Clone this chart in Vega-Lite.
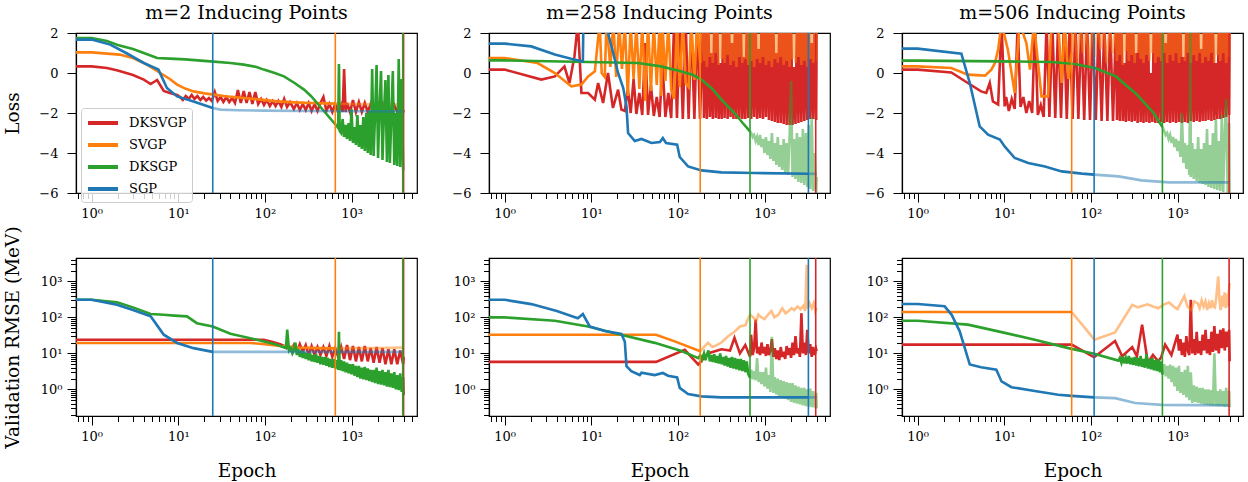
{
"$schema":"https://vega.github.io/schema/vega-lite/v6.json",
"padding":{"left":2,"top":3,"right":2,"bottom":2},
"background":"white",
"config":{
 "font":"DejaVu Serif",
 "view":{"stroke":"black","strokeWidth":1.2},
 "axis":{"grid":false,"domainColor":"black","domainWidth":1.2,"tickColor":"black","tickWidth":1,"labelColor":"black","labelFontSize":13,"labelFont":"DejaVu Serif","titleFont":"DejaVu Serif","titleFontSize":18.5,"titleFontWeight":"normal","titleColor":"black"},
 "title":{"font":"DejaVu Serif","fontSize":19,"fontWeight":"normal","color":"black","offset":4,"anchor":"middle","frame":"group"}
},
"datasets":{
"L":[
{"p":1,"k":"L","s":"DKSVGP","f":0,"e":0.66,"v":0.33},{"p":1,"k":"L","s":"DKSVGP","f":0,"e":1,"v":0.33},{"p":1,"k":"L","s":"DKSVGP","f":0,"e":1.5,"v":0.25},{"p":1,"k":"L","s":"DKSVGP","f":0,"e":2,"v":0.12},{"p":1,"k":"L","s":"DKSVGP","f":0,"e":3,"v":-0.1},{"p":1,"k":"L","s":"DKSVGP","f":0,"e":4,"v":-0.33},{"p":1,"k":"L","s":"DKSVGP","f":0,"e":4.8,"v":-0.55},{"p":1,"k":"L","s":"DKSVGP","f":0,"e":5.7,"v":-0.35},{"p":1,"k":"L","s":"DKSVGP","f":0,"e":6.8,"v":-0.9},{"p":1,"k":"L","s":"DKSVGP","f":0,"e":8,"v":-1.0},{"p":1,"k":"L","s":"DKSVGP","f":0,"e":9.7,"v":-1.1},
{"p":1,"k":"L","s":"DKSVGP","f":0,"e":10.5,"v":-1.2},{"p":1,"k":"L","s":"DKSVGP","f":0,"e":11.3,"v":-1.35},{"p":1,"k":"L","s":"DKSVGP","f":0,"e":12.2,"v":-1.15},{"p":1,"k":"L","s":"DKSVGP","f":0,"e":13.2,"v":-1.3},{"p":1,"k":"L","s":"DKSVGP","f":0,"e":14.3,"v":-1.1},{"p":1,"k":"L","s":"DKSVGP","f":0,"e":15.4,"v":-1.3},{"p":1,"k":"L","s":"DKSVGP","f":0,"e":16.6,"v":-1.15},{"p":1,"k":"L","s":"DKSVGP","f":0,"e":18,"v":-1.35},{"p":1,"k":"L","s":"DKSVGP","f":0,"e":19.4,"v":-1.2},{"p":1,"k":"L","s":"DKSVGP","f":0,"e":21,"v":-1.38},{"p":1,"k":"L","s":"DKSVGP","f":0,"e":22.6,"v":-1.25},{"p":1,"k":"L","s":"DKSVGP","f":0,"e":24.4,"v":-1.4},{"p":1,"k":"L","s":"DKSVGP","f":0,"e":26.4,"v":-0.95},{"p":1,"k":"L","s":"DKSVGP","f":0,"e":28.5,"v":-1.4},{"p":1,"k":"L","s":"DKSVGP","f":0,"e":30.8,"v":-1.2},{"p":1,"k":"L","s":"DKSVGP","f":0,"e":33.2,"v":-1.45},{"p":1,"k":"L","s":"DKSVGP","f":0,"e":35.9,"v":-1.2},{"p":1,"k":"L","s":"DKSVGP","f":0,"e":38.8,"v":-1.45},{"p":1,"k":"L","s":"DKSVGP","f":0,"e":41.9,"v":-1.25},{"p":1,"k":"L","s":"DKSVGP","f":0,"e":45.2,"v":-1.5},{"p":1,"k":"L","s":"DKSVGP","f":0,"e":48.8,"v":-0.85},{"p":1,"k":"L","s":"DKSVGP","f":0,"e":52.7,"v":-1.5},{"p":1,"k":"L","s":"DKSVGP","f":0,"e":57,"v":-0.9},{"p":1,"k":"L","s":"DKSVGP","f":0,"e":61.5,"v":-1.5},{"p":1,"k":"L","s":"DKSVGP","f":0,"e":66.4,"v":-0.95},{"p":1,"k":"L","s":"DKSVGP","f":0,"e":71.7,"v":-1.55},{"p":1,"k":"L","s":"DKSVGP","f":0,"e":77.5,"v":-0.95},{"p":1,"k":"L","s":"DKSVGP","f":0,"e":83.7,"v":-1.55},{"p":1,"k":"L","s":"DKSVGP","f":0,"e":90.4,"v":-1.3},{"p":1,"k":"L","s":"DKSVGP","f":0,"e":97.6,"v":-1.6},{"p":1,"k":"L","s":"DKSVGP","f":0,"e":105,"v":-1.35},{"p":1,"k":"L","s":"DKSVGP","f":0,"e":114,"v":-1.65},{"p":1,"k":"L","s":"DKSVGP","f":0,"e":123,"v":-1.4},{"p":1,"k":"L","s":"DKSVGP","f":0,"e":133,"v":-1.65},{"p":1,"k":"L","s":"DKSVGP","f":0,"e":143,"v":-1.4},{"p":1,"k":"L","s":"DKSVGP","f":0,"e":155,"v":-1.7},{"p":1,"k":"L","s":"DKSVGP","f":0,"e":167,"v":-1.3},{"p":1,"k":"L","s":"DKSVGP","f":0,"e":180,"v":-1.7},{"p":1,"k":"L","s":"DKSVGP","f":0,"e":195,"v":-1.45},
{"p":1,"k":"L","s":"DKSVGP","f":0,"e":216,"v":-1.8},{"p":1,"k":"L","s":"DKSVGP","f":0,"e":234,"v":-1.5},{"p":1,"k":"L","s":"DKSVGP","f":0,"e":253,"v":-1.85},{"p":1,"k":"L","s":"DKSVGP","f":0,"e":274,"v":-1.55},{"p":1,"k":"L","s":"DKSVGP","f":0,"e":296,"v":-1.85},{"p":1,"k":"L","s":"DKSVGP","f":0,"e":320,"v":-1.5},{"p":1,"k":"L","s":"DKSVGP","f":0,"e":346,"v":-1.9},{"p":1,"k":"L","s":"DKSVGP","f":0,"e":375,"v":-1.55},{"p":1,"k":"L","s":"DKSVGP","f":0,"e":405,"v":-1.9},{"p":1,"k":"L","s":"DKSVGP","f":0,"e":438,"v":-1.5},{"p":1,"k":"L","s":"DKSVGP","f":0,"e":474,"v":-1.2},{"p":1,"k":"L","s":"DKSVGP","f":0,"e":513,"v":-1.9},{"p":1,"k":"L","s":"DKSVGP","f":0,"e":555,"v":-1.55},{"p":1,"k":"L","s":"DKSVGP","f":0,"e":600,"v":-1.95},{"p":1,"k":"L","s":"DKSVGP","f":0,"e":649,"v":-1.55},{"p":1,"k":"L","s":"DKSVGP","f":0,"e":702,"v":-1.95},{"p":1,"k":"L","s":"DKSVGP","f":0,"e":759,"v":-1.6},{"p":1,"k":"L","s":"DKSVGP","f":0,"e":790,"v":-1.95},{"p":1,"k":"L","s":"DKSVGP","f":0,"e":821,"v":0.2},{"p":1,"k":"L","s":"DKSVGP","f":0,"e":854,"v":-1.95},{"p":1,"k":"L","s":"DKSVGP","f":0,"e":888,"v":-1.5},{"p":1,"k":"L","s":"DKSVGP","f":0,"e":961,"v":-1.95},{"p":1,"k":"L","s":"DKSVGP","f":0,"e":1039,"v":-1.35},{"p":1,"k":"L","s":"DKSVGP","f":0,"e":1124,"v":-1.95},{"p":1,"k":"L","s":"DKSVGP","f":0,"e":1216,"v":-1.45},{"p":1,"k":"L","s":"DKSVGP","f":0,"e":1315,"v":-1.95},{"p":1,"k":"L","s":"DKSVGP","f":0,"e":1423,"v":-1.5},{"p":1,"k":"L","s":"DKSVGP","f":0,"e":1539,"v":-1.95},{"p":1,"k":"L","s":"DKSVGP","f":0,"e":1664,"v":-1.55},{"p":1,"k":"L","s":"DKSVGP","f":0,"e":1800,"v":-1.95},{"p":1,"k":"L","s":"DKSVGP","f":0,"e":1947,"v":-1.6},{"p":1,"k":"L","s":"DKSVGP","f":0,"e":2106,"v":-1.95},{"p":1,"k":"L","s":"DKSVGP","f":0,"e":2278,"v":-1.55},{"p":1,"k":"L","s":"DKSVGP","f":0,"e":2464,"v":-1.95},{"p":1,"k":"L","s":"DKSVGP","f":0,"e":2665,"v":-1.6},{"p":1,"k":"L","s":"DKSVGP","f":0,"e":2882,"v":-1.95},{"p":1,"k":"L","s":"DKSVGP","f":0,"e":3117,"v":-1.6},{"p":1,"k":"L","s":"DKSVGP","f":0,"e":3372,"v":-1.95},{"p":1,"k":"L","s":"DKSVGP","f":0,"e":3647,"v":-1.6},{"p":1,"k":"L","s":"DKSVGP","f":0,"e":3945,"v":-1.95},{"p":1,"k":"L","s":"DKSVGP","f":0,"e":4000,"v":-1.85},
{"p":1,"k":"L","s":"SVGP","f":0,"e":0.66,"v":1.03},{"p":1,"k":"L","s":"SVGP","f":0,"e":1,"v":1.03},{"p":1,"k":"L","s":"SVGP","f":0,"e":2.1,"v":0.92},{"p":1,"k":"L","s":"SVGP","f":0,"e":3,"v":0.75},{"p":1,"k":"L","s":"SVGP","f":0,"e":4,"v":0.5},{"p":1,"k":"L","s":"SVGP","f":0,"e":5,"v":0.25},{"p":1,"k":"L","s":"SVGP","f":0,"e":6.2,"v":0},{"p":1,"k":"L","s":"SVGP","f":0,"e":8,"v":-0.3},{"p":1,"k":"L","s":"SVGP","f":0,"e":9.7,"v":-0.58},{"p":1,"k":"L","s":"SVGP","f":0,"e":12,"v":-0.78},{"p":1,"k":"L","s":"SVGP","f":0,"e":15,"v":-0.92},{"p":1,"k":"L","s":"SVGP","f":0,"e":20,"v":-1.02},{"p":1,"k":"L","s":"SVGP","f":0,"e":25.8,"v":-1.08},{"p":1,"k":"L","s":"SVGP","f":0,"e":35,"v":-1.16},{"p":1,"k":"L","s":"SVGP","f":0,"e":57,"v":-1.25},{"p":1,"k":"L","s":"SVGP","f":0,"e":90,"v":-1.33},{"p":1,"k":"L","s":"SVGP","f":0,"e":138,"v":-1.42},{"p":1,"k":"L","s":"SVGP","f":0,"e":220,"v":-1.47},{"p":1,"k":"L","s":"SVGP","f":0,"e":338,"v":-1.5},{"p":1,"k":"L","s":"SVGP","f":0,"e":500,"v":-1.52},{"p":1,"k":"L","s":"SVGP","f":0,"e":650,"v":-1.53},
{"p":1,"k":"L","s":"SVGP","f":1,"e":650,"v":-1.53},{"p":1,"k":"L","s":"SVGP","f":1,"e":1000,"v":-1.55},{"p":1,"k":"L","s":"SVGP","f":1,"e":2000,"v":-1.57},{"p":1,"k":"L","s":"SVGP","f":1,"e":4000,"v":-1.58},
{"p":1,"k":"L","s":"DKSGP","f":0,"e":0.66,"v":1.75},{"p":1,"k":"L","s":"DKSGP","f":0,"e":1,"v":1.75},{"p":1,"k":"L","s":"DKSGP","f":0,"e":1.5,"v":1.6},{"p":1,"k":"L","s":"DKSGP","f":0,"e":2,"v":1.4},{"p":1,"k":"L","s":"DKSGP","f":0,"e":3,"v":1.2},{"p":1,"k":"L","s":"DKSGP","f":0,"e":4,"v":1.0},{"p":1,"k":"L","s":"DKSGP","f":0,"e":5.7,"v":0.75},{"p":1,"k":"L","s":"DKSGP","f":0,"e":8,"v":0.72},{"p":1,"k":"L","s":"DKSGP","f":0,"e":12,"v":0.68},{"p":1,"k":"L","s":"DKSGP","f":0,"e":23.6,"v":0.58},{"p":1,"k":"L","s":"DKSGP","f":0,"e":40,"v":0.5},{"p":1,"k":"L","s":"DKSGP","f":0,"e":57,"v":0.42},{"p":1,"k":"L","s":"DKSGP","f":0,"e":80,"v":0.3},{"p":1,"k":"L","s":"DKSGP","f":0,"e":97,"v":0.17},{"p":1,"k":"L","s":"DKSGP","f":0,"e":130,"v":0.0},{"p":1,"k":"L","s":"DKSGP","f":0,"e":166,"v":-0.17},{"p":1,"k":"L","s":"DKSGP","f":0,"e":220,"v":-0.5},{"p":1,"k":"L","s":"DKSGP","f":0,"e":283,"v":-0.83},{"p":1,"k":"L","s":"DKSGP","f":0,"e":340,"v":-1.15},{"p":1,"k":"L","s":"DKSGP","f":0,"e":400,"v":-1.5},{"p":1,"k":"L","s":"DKSGP","f":0,"e":480,"v":-1.9},{"p":1,"k":"L","s":"DKSGP","f":0,"e":575,"v":-2.3},{"p":1,"k":"L","s":"DKSGP","f":0,"e":660,"v":-2.6},{"p":1,"k":"L","s":"DKSGP","f":0,"e":702,"v":-2.75},{"p":1,"k":"L","s":"DKSGP","f":0,"e":716,"v":0.45},{"p":1,"k":"L","s":"DKSGP","f":0,"e":730,"v":-2.9},
{"p":1,"k":"L","s":"DKSGP","f":0,"e":759,"v":-3.0},{"p":1,"k":"L","s":"DKSGP","f":0,"e":790,"v":-2.3},{"p":1,"k":"L","s":"DKSGP","f":0,"e":821,"v":-3.2},{"p":1,"k":"L","s":"DKSGP","f":0,"e":854,"v":-2.6},{"p":1,"k":"L","s":"DKSGP","f":0,"e":888,"v":-3.3},{"p":1,"k":"L","s":"DKSGP","f":0,"e":924,"v":-2.5},{"p":1,"k":"L","s":"DKSGP","f":0,"e":961,"v":-3.4},{"p":1,"k":"L","s":"DKSGP","f":0,"e":999,"v":-1.8},{"p":1,"k":"L","s":"DKSGP","f":0,"e":1039,"v":-3.5},{"p":1,"k":"L","s":"DKSGP","f":0,"e":1081,"v":-2.7},{"p":1,"k":"L","s":"DKSGP","f":0,"e":1124,"v":-3.6},{"p":1,"k":"L","s":"DKSGP","f":0,"e":1169,"v":-2.1},{"p":1,"k":"L","s":"DKSGP","f":0,"e":1216,"v":-3.7},{"p":1,"k":"L","s":"DKSGP","f":0,"e":1265,"v":-2.6},{"p":1,"k":"L","s":"DKSGP","f":0,"e":1315,"v":-3.8},{"p":1,"k":"L","s":"DKSGP","f":0,"e":1368,"v":-2.2},{"p":1,"k":"L","s":"DKSGP","f":0,"e":1423,"v":-3.9},{"p":1,"k":"L","s":"DKSGP","f":0,"e":1480,"v":-2.0},{"p":1,"k":"L","s":"DKSGP","f":0,"e":1539,"v":-4.0},{"p":1,"k":"L","s":"DKSGP","f":0,"e":1600,"v":-1.9},{"p":1,"k":"L","s":"DKSGP","f":0,"e":1664,"v":-4.1},{"p":1,"k":"L","s":"DKSGP","f":0,"e":1731,"v":0.2},{"p":1,"k":"L","s":"DKSGP","f":0,"e":1800,"v":-4.15},{"p":1,"k":"L","s":"DKSGP","f":0,"e":1872,"v":-2.0},{"p":1,"k":"L","s":"DKSGP","f":0,"e":1947,"v":0.4},{"p":1,"k":"L","s":"DKSGP","f":0,"e":2025,"v":-4.25},{"p":1,"k":"L","s":"DKSGP","f":0,"e":2106,"v":-1.8},{"p":1,"k":"L","s":"DKSGP","f":0,"e":2190,"v":0.1},{"p":1,"k":"L","s":"DKSGP","f":0,"e":2278,"v":-4.35},{"p":1,"k":"L","s":"DKSGP","f":0,"e":2369,"v":-2.0},{"p":1,"k":"L","s":"DKSGP","f":0,"e":2464,"v":-0.35},{"p":1,"k":"L","s":"DKSGP","f":0,"e":2562,"v":-4.45},{"p":1,"k":"L","s":"DKSGP","f":0,"e":2665,"v":-0.1},{"p":1,"k":"L","s":"DKSGP","f":0,"e":2771,"v":-4.5},{"p":1,"k":"L","s":"DKSGP","f":0,"e":2882,"v":-2.2},{"p":1,"k":"L","s":"DKSGP","f":0,"e":2998,"v":0.1},{"p":1,"k":"L","s":"DKSGP","f":0,"e":3117,"v":-4.6},{"p":1,"k":"L","s":"DKSGP","f":0,"e":3242,"v":-2.0},{"p":1,"k":"L","s":"DKSGP","f":0,"e":3372,"v":-4.65},{"p":1,"k":"L","s":"DKSGP","f":0,"e":3507,"v":0.7},{"p":1,"k":"L","s":"DKSGP","f":0,"e":3647,"v":-4.7},{"p":1,"k":"L","s":"DKSGP","f":0,"e":3793,"v":-0.3},{"p":1,"k":"L","s":"DKSGP","f":0,"e":3945,"v":-4.8},{"p":1,"k":"L","s":"DKSGP","f":0,"e":4000,"v":-4.85},
{"p":1,"k":"L","s":"SGP","f":0,"e":0.66,"v":1.67},{"p":1,"k":"L","s":"SGP","f":0,"e":1,"v":1.67},{"p":1,"k":"L","s":"SGP","f":0,"e":1.64,"v":1.42},{"p":1,"k":"L","s":"SGP","f":0,"e":2.5,"v":1.0},{"p":1,"k":"L","s":"SGP","f":0,"e":4,"v":0.5},{"p":1,"k":"L","s":"SGP","f":0,"e":5.9,"v":0.17},{"p":1,"k":"L","s":"SGP","f":0,"e":7.4,"v":-0.75},{"p":1,"k":"L","s":"SGP","f":0,"e":9.7,"v":-1.17},{"p":1,"k":"L","s":"SGP","f":0,"e":15,"v":-1.42},{"p":1,"k":"L","s":"SGP","f":0,"e":25,"v":-1.75},
{"p":1,"k":"L","s":"SGP","f":1,"e":25,"v":-1.75},{"p":1,"k":"L","s":"SGP","f":1,"e":30.6,"v":-1.83},{"p":1,"k":"L","s":"SGP","f":1,"e":50,"v":-1.86},{"p":1,"k":"L","s":"SGP","f":1,"e":97,"v":-1.88},{"p":1,"k":"L","s":"SGP","f":1,"e":300,"v":-1.9},{"p":1,"k":"L","s":"SGP","f":1,"e":1000,"v":-1.91},{"p":1,"k":"L","s":"SGP","f":1,"e":4000,"v":-1.92},
{"p":1,"k":"R","s":"DKSVGP","f":0,"e":0.66,"v":24},{"p":1,"k":"R","s":"DKSVGP","f":0,"e":97,"v":24},{"p":1,"k":"R","s":"DKSVGP","f":0,"e":120,"v":21},{"p":1,"k":"R","s":"DKSVGP","f":0,"e":150,"v":18},{"p":1,"k":"R","s":"DKSVGP","f":0,"e":180,"v":15},{"p":1,"k":"R","s":"DKSVGP","f":0,"e":200,"v":12},{"p":1,"k":"R","s":"DKSVGP","f":0,"e":216,"v":17},{"p":1,"k":"R","s":"DKSVGP","f":0,"e":234,"v":11},{"p":1,"k":"R","s":"DKSVGP","f":0,"e":253,"v":18},{"p":1,"k":"R","s":"DKSVGP","f":0,"e":274,"v":11},{"p":1,"k":"R","s":"DKSVGP","f":0,"e":296,"v":17},{"p":1,"k":"R","s":"DKSVGP","f":0,"e":320,"v":9},{"p":1,"k":"R","s":"DKSVGP","f":0,"e":346,"v":16},{"p":1,"k":"R","s":"DKSVGP","f":0,"e":375,"v":9},{"p":1,"k":"R","s":"DKSVGP","f":0,"e":405,"v":15},{"p":1,"k":"R","s":"DKSVGP","f":0,"e":438,"v":9},{"p":1,"k":"R","s":"DKSVGP","f":0,"e":474,"v":15},{"p":1,"k":"R","s":"DKSVGP","f":0,"e":513,"v":8.5},{"p":1,"k":"R","s":"DKSVGP","f":0,"e":555,"v":16},{"p":1,"k":"R","s":"DKSVGP","f":0,"e":600,"v":8},{"p":1,"k":"R","s":"DKSVGP","f":0,"e":649,"v":14},{"p":1,"k":"R","s":"DKSVGP","f":0,"e":702,"v":8},{"p":1,"k":"R","s":"DKSVGP","f":0,"e":759,"v":15},{"p":1,"k":"R","s":"DKSVGP","f":0,"e":821,"v":7},{"p":1,"k":"R","s":"DKSVGP","f":0,"e":888,"v":17},{"p":1,"k":"R","s":"DKSVGP","f":0,"e":961,"v":6.5},{"p":1,"k":"R","s":"DKSVGP","f":0,"e":1039,"v":16},{"p":1,"k":"R","s":"DKSVGP","f":0,"e":1124,"v":6},{"p":1,"k":"R","s":"DKSVGP","f":0,"e":1216,"v":15},{"p":1,"k":"R","s":"DKSVGP","f":0,"e":1315,"v":6},{"p":1,"k":"R","s":"DKSVGP","f":0,"e":1423,"v":16},{"p":1,"k":"R","s":"DKSVGP","f":0,"e":1539,"v":6},{"p":1,"k":"R","s":"DKSVGP","f":0,"e":1664,"v":14},{"p":1,"k":"R","s":"DKSVGP","f":0,"e":1800,"v":5.5},{"p":1,"k":"R","s":"DKSVGP","f":0,"e":1947,"v":15},{"p":1,"k":"R","s":"DKSVGP","f":0,"e":2106,"v":5.5},{"p":1,"k":"R","s":"DKSVGP","f":0,"e":2278,"v":14},{"p":1,"k":"R","s":"DKSVGP","f":0,"e":2464,"v":5},{"p":1,"k":"R","s":"DKSVGP","f":0,"e":2665,"v":13},{"p":1,"k":"R","s":"DKSVGP","f":0,"e":2882,"v":5},{"p":1,"k":"R","s":"DKSVGP","f":0,"e":3117,"v":13},{"p":1,"k":"R","s":"DKSVGP","f":0,"e":3372,"v":5},{"p":1,"k":"R","s":"DKSVGP","f":0,"e":3647,"v":12},{"p":1,"k":"R","s":"DKSVGP","f":0,"e":3945,"v":5},{"p":1,"k":"R","s":"DKSVGP","f":0,"e":4000,"v":8},
{"p":1,"k":"R","s":"SVGP","f":0,"e":0.66,"v":19.5},{"p":1,"k":"R","s":"SVGP","f":0,"e":68,"v":19.5},{"p":1,"k":"R","s":"SVGP","f":0,"e":100,"v":18},{"p":1,"k":"R","s":"SVGP","f":0,"e":150,"v":16},{"p":1,"k":"R","s":"SVGP","f":0,"e":250,"v":14.5},{"p":1,"k":"R","s":"SVGP","f":0,"e":400,"v":14},{"p":1,"k":"R","s":"SVGP","f":0,"e":650,"v":13.8},
{"p":1,"k":"R","s":"SVGP","f":1,"e":650,"v":13.8},{"p":1,"k":"R","s":"SVGP","f":1,"e":1000,"v":14},{"p":1,"k":"R","s":"SVGP","f":1,"e":2000,"v":14},{"p":1,"k":"R","s":"SVGP","f":1,"e":4000,"v":14.5},
{"p":1,"k":"R","s":"DKSGP","f":0,"e":0.66,"v":309},{"p":1,"k":"R","s":"DKSGP","f":0,"e":1,"v":309},{"p":1,"k":"R","s":"DKSGP","f":0,"e":1.96,"v":262},{"p":1,"k":"R","s":"DKSGP","f":0,"e":3,"v":190},{"p":1,"k":"R","s":"DKSGP","f":0,"e":4.8,"v":124},{"p":1,"k":"R","s":"DKSGP","f":0,"e":6.8,"v":118},{"p":1,"k":"R","s":"DKSGP","f":0,"e":9,"v":112},{"p":1,"k":"R","s":"DKSGP","f":0,"e":12.6,"v":107},{"p":1,"k":"R","s":"DKSGP","f":0,"e":16.4,"v":69},{"p":1,"k":"R","s":"DKSGP","f":0,"e":25,"v":56},{"p":1,"k":"R","s":"DKSGP","f":0,"e":40,"v":35},{"p":1,"k":"R","s":"DKSGP","f":0,"e":81,"v":24},{"p":1,"k":"R","s":"DKSGP","f":0,"e":138,"v":17.4},{"p":1,"k":"R","s":"DKSGP","f":0,"e":175,"v":14},{"p":1,"k":"R","s":"DKSGP","f":0,"e":181,"v":46},{"p":1,"k":"R","s":"DKSGP","f":0,"e":190,"v":12},{"p":1,"k":"R","s":"DKSGP","f":0,"e":200,"v":14},{"p":1,"k":"R","s":"DKSGP","f":0,"e":208,"v":10},{"p":1,"k":"R","s":"DKSGP","f":0,"e":216,"v":12},{"p":1,"k":"R","s":"DKSGP","f":0,"e":225,"v":20},{"p":1,"k":"R","s":"DKSGP","f":0,"e":234,"v":9},{"p":1,"k":"R","s":"DKSGP","f":0,"e":243,"v":13},{"p":1,"k":"R","s":"DKSGP","f":0,"e":253,"v":8},{"p":1,"k":"R","s":"DKSGP","f":0,"e":263,"v":12},{"p":1,"k":"R","s":"DKSGP","f":0,"e":274,"v":7.5},{"p":1,"k":"R","s":"DKSGP","f":0,"e":285,"v":11},{"p":1,"k":"R","s":"DKSGP","f":0,"e":296,"v":7},{"p":1,"k":"R","s":"DKSGP","f":0,"e":308,"v":10},{"p":1,"k":"R","s":"DKSGP","f":0,"e":320,"v":6.5},{"p":1,"k":"R","s":"DKSGP","f":0,"e":333,"v":10},{"p":1,"k":"R","s":"DKSGP","f":0,"e":346,"v":6},{"p":1,"k":"R","s":"DKSGP","f":0,"e":360,"v":9},{"p":1,"k":"R","s":"DKSGP","f":0,"e":375,"v":5.8},{"p":1,"k":"R","s":"DKSGP","f":0,"e":390,"v":9.5},{"p":1,"k":"R","s":"DKSGP","f":0,"e":405,"v":5.5},{"p":1,"k":"R","s":"DKSGP","f":0,"e":421,"v":8.5},{"p":1,"k":"R","s":"DKSGP","f":0,"e":438,"v":5},{"p":1,"k":"R","s":"DKSGP","f":0,"e":456,"v":8},{"p":1,"k":"R","s":"DKSGP","f":0,"e":474,"v":4.8},{"p":1,"k":"R","s":"DKSGP","f":0,"e":493,"v":8},{"p":1,"k":"R","s":"DKSGP","f":0,"e":513,"v":4.5},{"p":1,"k":"R","s":"DKSGP","f":0,"e":533,"v":7.5},{"p":1,"k":"R","s":"DKSGP","f":0,"e":555,"v":4.2},{"p":1,"k":"R","s":"DKSGP","f":0,"e":577,"v":7},{"p":1,"k":"R","s":"DKSGP","f":0,"e":600,"v":4},{"p":1,"k":"R","s":"DKSGP","f":0,"e":624,"v":7},{"p":1,"k":"R","s":"DKSGP","f":0,"e":649,"v":3.8},{"p":1,"k":"R","s":"DKSGP","f":0,"e":675,"v":6.5},{"p":1,"k":"R","s":"DKSGP","f":0,"e":702,"v":3.5},{"p":1,"k":"R","s":"DKSGP","f":0,"e":716,"v":40},{"p":1,"k":"R","s":"DKSGP","f":0,"e":730,"v":3.4},{"p":1,"k":"R","s":"DKSGP","f":0,"e":759,"v":6.5},{"p":1,"k":"R","s":"DKSGP","f":0,"e":790,"v":3.2},{"p":1,"k":"R","s":"DKSGP","f":0,"e":821,"v":6},{"p":1,"k":"R","s":"DKSGP","f":0,"e":854,"v":3},{"p":1,"k":"R","s":"DKSGP","f":0,"e":888,"v":5.5},{"p":1,"k":"R","s":"DKSGP","f":0,"e":924,"v":2.8},{"p":1,"k":"R","s":"DKSGP","f":0,"e":961,"v":5},{"p":1,"k":"R","s":"DKSGP","f":0,"e":999,"v":2.6},{"p":1,"k":"R","s":"DKSGP","f":0,"e":1039,"v":5},{"p":1,"k":"R","s":"DKSGP","f":0,"e":1081,"v":2.4},{"p":1,"k":"R","s":"DKSGP","f":0,"e":1124,"v":4.5},{"p":1,"k":"R","s":"DKSGP","f":0,"e":1169,"v":2.2},{"p":1,"k":"R","s":"DKSGP","f":0,"e":1216,"v":4.5},{"p":1,"k":"R","s":"DKSGP","f":0,"e":1265,"v":2.0},{"p":1,"k":"R","s":"DKSGP","f":0,"e":1315,"v":4},{"p":1,"k":"R","s":"DKSGP","f":0,"e":1368,"v":1.9},{"p":1,"k":"R","s":"DKSGP","f":0,"e":1423,"v":4.2},{"p":1,"k":"R","s":"DKSGP","f":0,"e":1480,"v":1.8},{"p":1,"k":"R","s":"DKSGP","f":0,"e":1539,"v":3.8},{"p":1,"k":"R","s":"DKSGP","f":0,"e":1600,"v":1.7},{"p":1,"k":"R","s":"DKSGP","f":0,"e":1664,"v":3.5},{"p":1,"k":"R","s":"DKSGP","f":0,"e":1731,"v":1.6},{"p":1,"k":"R","s":"DKSGP","f":0,"e":1800,"v":3.5},{"p":1,"k":"R","s":"DKSGP","f":0,"e":1872,"v":1.5},{"p":1,"k":"R","s":"DKSGP","f":0,"e":1947,"v":4},{"p":1,"k":"R","s":"DKSGP","f":0,"e":2025,"v":1.4},{"p":1,"k":"R","s":"DKSGP","f":0,"e":2106,"v":3.2},{"p":1,"k":"R","s":"DKSGP","f":0,"e":2190,"v":1.35},{"p":1,"k":"R","s":"DKSGP","f":0,"e":2278,"v":3.5},{"p":1,"k":"R","s":"DKSGP","f":0,"e":2369,"v":1.3},{"p":1,"k":"R","s":"DKSGP","f":0,"e":2464,"v":3},{"p":1,"k":"R","s":"DKSGP","f":0,"e":2562,"v":1.2},{"p":1,"k":"R","s":"DKSGP","f":0,"e":2665,"v":3.5},{"p":1,"k":"R","s":"DKSGP","f":0,"e":2771,"v":1.15},{"p":1,"k":"R","s":"DKSGP","f":0,"e":2882,"v":2.8},{"p":1,"k":"R","s":"DKSGP","f":0,"e":2998,"v":1.1},{"p":1,"k":"R","s":"DKSGP","f":0,"e":3117,"v":3},{"p":1,"k":"R","s":"DKSGP","f":0,"e":3242,"v":1.0},{"p":1,"k":"R","s":"DKSGP","f":0,"e":3372,"v":2.5},{"p":1,"k":"R","s":"DKSGP","f":0,"e":3507,"v":0.95},{"p":1,"k":"R","s":"DKSGP","f":0,"e":3647,"v":2.8},{"p":1,"k":"R","s":"DKSGP","f":0,"e":3793,"v":0.85},{"p":1,"k":"R","s":"DKSGP","f":0,"e":3945,"v":2.2},{"p":1,"k":"R","s":"DKSGP","f":0,"e":4000,"v":0.7},
{"p":1,"k":"R","s":"SGP","f":0,"e":0.66,"v":309},{"p":1,"k":"R","s":"SGP","f":0,"e":1,"v":309},{"p":1,"k":"R","s":"SGP","f":0,"e":1.96,"v":224},{"p":1,"k":"R","s":"SGP","f":0,"e":3,"v":160},{"p":1,"k":"R","s":"SGP","f":0,"e":4.8,"v":107},{"p":1,"k":"R","s":"SGP","f":0,"e":5.7,"v":60},{"p":1,"k":"R","s":"SGP","f":0,"e":6.8,"v":33},{"p":1,"k":"R","s":"SGP","f":0,"e":9.7,"v":19.5},{"p":1,"k":"R","s":"SGP","f":0,"e":15,"v":14},{"p":1,"k":"R","s":"SGP","f":0,"e":25,"v":11},
{"p":1,"k":"R","s":"SGP","f":1,"e":25,"v":11},{"p":1,"k":"R","s":"SGP","f":1,"e":100,"v":11},{"p":1,"k":"R","s":"SGP","f":1,"e":4000,"v":11},
{"p":2,"k":"L","s":"DKSVGP","f":0,"e":0.66,"v":0.17},{"p":2,"k":"L","s":"DKSVGP","f":0,"e":1,"v":0.17},{"p":2,"k":"L","s":"DKSVGP","f":0,"e":2.65,"v":-0.33},{"p":2,"k":"L","s":"DKSVGP","f":0,"e":3.8,"v":-0.17},{"p":2,"k":"L","s":"DKSVGP","f":0,"e":4.9,"v":0.33},{"p":2,"k":"L","s":"DKSVGP","f":0,"e":5.6,"v":-0.5},{"p":2,"k":"L","s":"DKSVGP","f":0,"e":6.4,"v":0.83},{"p":2,"k":"L","s":"DKSVGP","f":0,"e":7.0,"v":2.5},{"p":2,"k":"L","s":"DKSVGP","f":0,"e":7.7,"v":-1.0},{"p":2,"k":"L","s":"DKSVGP","f":0,"e":9.2,"v":-1.0},{"p":2,"k":"L","s":"DKSVGP","f":0,"e":11,"v":-1.33},{"p":2,"k":"L","s":"DKSVGP","f":0,"e":12,"v":-0.5},{"p":2,"k":"L","s":"DKSVGP","f":0,"e":13.7,"v":-1.5},{"p":2,"k":"L","s":"DKSVGP","f":0,"e":15.6,"v":0.0},{"p":2,"k":"L","s":"DKSVGP","f":0,"e":17.8,"v":-1.75},{"p":2,"k":"L","s":"DKSVGP","f":0,"e":20.4,"v":-0.83},{"p":2,"k":"L","s":"DKSVGP","f":0,"e":22.3,"v":-1.83},
{"p":2,"k":"L","s":"DKSVGP","f":0,"e":24.4,"v":-1.9},{"p":2,"k":"L","s":"DKSVGP","f":0,"e":26.4,"v":-0.8},{"p":2,"k":"L","s":"DKSVGP","f":0,"e":28.5,"v":-2.0},{"p":2,"k":"L","s":"DKSVGP","f":0,"e":30.8,"v":-0.3},{"p":2,"k":"L","s":"DKSVGP","f":0,"e":33.2,"v":-2.05},{"p":2,"k":"L","s":"DKSVGP","f":0,"e":35.9,"v":-1.0},{"p":2,"k":"L","s":"DKSVGP","f":0,"e":38.8,"v":-2.1},{"p":2,"k":"L","s":"DKSVGP","f":0,"e":41.9,"v":1.5},{"p":2,"k":"L","s":"DKSVGP","f":0,"e":45.2,"v":-2.1},{"p":2,"k":"L","s":"DKSVGP","f":0,"e":48.8,"v":-0.6},{"p":2,"k":"L","s":"DKSVGP","f":0,"e":52.7,"v":-2.15},{"p":2,"k":"L","s":"DKSVGP","f":0,"e":57,"v":-1.2},{"p":2,"k":"L","s":"DKSVGP","f":0,"e":61.5,"v":-2.2},{"p":2,"k":"L","s":"DKSVGP","f":0,"e":66.4,"v":0.5},{"p":2,"k":"L","s":"DKSVGP","f":0,"e":71.7,"v":-2.2},{"p":2,"k":"L","s":"DKSVGP","f":0,"e":77.5,"v":-1.0},{"p":2,"k":"L","s":"DKSVGP","f":0,"e":83.7,"v":-2.25},{"p":2,"k":"L","s":"DKSVGP","f":0,"e":90.4,"v":2.5},{"p":2,"k":"L","s":"DKSVGP","f":0,"e":97.6,"v":-2.25},{"p":2,"k":"L","s":"DKSVGP","f":0,"e":105,"v":2.5},{"p":2,"k":"L","s":"DKSVGP","f":0,"e":114,"v":-2.3},{"p":2,"k":"L","s":"DKSVGP","f":0,"e":123,"v":2.5},{"p":2,"k":"L","s":"DKSVGP","f":0,"e":133,"v":-2.3},{"p":2,"k":"L","s":"DKSVGP","f":0,"e":143,"v":2.5},{"p":2,"k":"L","s":"DKSVGP","f":0,"e":155,"v":-2.3},{"p":2,"k":"L","s":"DKSVGP","f":0,"e":167,"v":2.5},{"p":2,"k":"L","s":"DKSVGP","f":0,"e":180,"v":-2.3},{"p":2,"k":"L","s":"DKSVGP","f":0,"e":195,"v":2.5},
{"p":2,"k":"L","s":"DKSVGP","f":0,"e":200,"v":-2.25},{"p":2,"k":"L","s":"DKSVGP","f":0,"e":208,"v":2.5},{"p":2,"k":"L","s":"DKSVGP","f":0,"e":216,"v":-2.3},{"p":2,"k":"L","s":"DKSVGP","f":0,"e":225,"v":2.5},{"p":2,"k":"L","s":"DKSVGP","f":0,"e":234,"v":-2.2},{"p":2,"k":"L","s":"DKSVGP","f":0,"e":243,"v":1.0},{"p":2,"k":"L","s":"DKSVGP","f":0,"e":253,"v":-2.3},{"p":2,"k":"L","s":"DKSVGP","f":0,"e":263,"v":2.5},{"p":2,"k":"L","s":"DKSVGP","f":0,"e":274,"v":-2.25},{"p":2,"k":"L","s":"DKSVGP","f":0,"e":285,"v":2.5},{"p":2,"k":"L","s":"DKSVGP","f":0,"e":296,"v":-2.3},{"p":2,"k":"L","s":"DKSVGP","f":0,"e":308,"v":0.5},{"p":2,"k":"L","s":"DKSVGP","f":0,"e":320,"v":-2.3},{"p":2,"k":"L","s":"DKSVGP","f":0,"e":333,"v":2.5},{"p":2,"k":"L","s":"DKSVGP","f":0,"e":346,"v":-2.25},{"p":2,"k":"L","s":"DKSVGP","f":0,"e":360,"v":2.5},{"p":2,"k":"L","s":"DKSVGP","f":0,"e":375,"v":-2.3},{"p":2,"k":"L","s":"DKSVGP","f":0,"e":390,"v":2.5},{"p":2,"k":"L","s":"DKSVGP","f":0,"e":405,"v":-2.2},{"p":2,"k":"L","s":"DKSVGP","f":0,"e":421,"v":1.5},{"p":2,"k":"L","s":"DKSVGP","f":0,"e":438,"v":-2.3},{"p":2,"k":"L","s":"DKSVGP","f":0,"e":456,"v":2.5},{"p":2,"k":"L","s":"DKSVGP","f":0,"e":474,"v":-2.3},{"p":2,"k":"L","s":"DKSVGP","f":0,"e":493,"v":2.5},{"p":2,"k":"L","s":"DKSVGP","f":0,"e":513,"v":-2.25},{"p":2,"k":"L","s":"DKSVGP","f":0,"e":533,"v":2.5},{"p":2,"k":"L","s":"DKSVGP","f":0,"e":555,"v":-2.3},{"p":2,"k":"L","s":"DKSVGP","f":0,"e":577,"v":0.8},{"p":2,"k":"L","s":"DKSVGP","f":0,"e":600,"v":-2.3},{"p":2,"k":"L","s":"DKSVGP","f":0,"e":624,"v":2.5},{"p":2,"k":"L","s":"DKSVGP","f":0,"e":649,"v":-2.25},{"p":2,"k":"L","s":"DKSVGP","f":0,"e":675,"v":2.5},{"p":2,"k":"L","s":"DKSVGP","f":0,"e":702,"v":-2.3},{"p":2,"k":"L","s":"DKSVGP","f":0,"e":730,"v":2.5},{"p":2,"k":"L","s":"DKSVGP","f":0,"e":759,"v":-2.2},{"p":2,"k":"L","s":"DKSVGP","f":0,"e":790,"v":2.5},{"p":2,"k":"L","s":"DKSVGP","f":0,"e":821,"v":-2.3},{"p":2,"k":"L","s":"DKSVGP","f":0,"e":854,"v":1.2},{"p":2,"k":"L","s":"DKSVGP","f":0,"e":888,"v":-2.25},{"p":2,"k":"L","s":"DKSVGP","f":0,"e":924,"v":2.5},{"p":2,"k":"L","s":"DKSVGP","f":0,"e":961,"v":-2.3},{"p":2,"k":"L","s":"DKSVGP","f":0,"e":999,"v":2.5},{"p":2,"k":"L","s":"DKSVGP","f":0,"e":1039,"v":-2.2},{"p":2,"k":"L","s":"DKSVGP","f":0,"e":1081,"v":2.5},{"p":2,"k":"L","s":"DKSVGP","f":0,"e":1124,"v":-2.35},{"p":2,"k":"L","s":"DKSVGP","f":0,"e":1169,"v":2.5},{"p":2,"k":"L","s":"DKSVGP","f":0,"e":1216,"v":-2.4},{"p":2,"k":"L","s":"DKSVGP","f":0,"e":1265,"v":2.5},{"p":2,"k":"L","s":"DKSVGP","f":0,"e":1315,"v":-2.45},{"p":2,"k":"L","s":"DKSVGP","f":0,"e":1368,"v":1.0},{"p":2,"k":"L","s":"DKSVGP","f":0,"e":1423,"v":-2.5},{"p":2,"k":"L","s":"DKSVGP","f":0,"e":1480,"v":2.5},{"p":2,"k":"L","s":"DKSVGP","f":0,"e":1539,"v":-2.5},{"p":2,"k":"L","s":"DKSVGP","f":0,"e":1600,"v":2.5},{"p":2,"k":"L","s":"DKSVGP","f":0,"e":1664,"v":-2.55},{"p":2,"k":"L","s":"DKSVGP","f":0,"e":1731,"v":2.5},{"p":2,"k":"L","s":"DKSVGP","f":0,"e":1800,"v":-2.6},{"p":2,"k":"L","s":"DKSVGP","f":0,"e":1872,"v":2.5},{"p":2,"k":"L","s":"DKSVGP","f":0,"e":1947,"v":-2.6},{"p":2,"k":"L","s":"DKSVGP","f":0,"e":2025,"v":2.5},{"p":2,"k":"L","s":"DKSVGP","f":0,"e":2106,"v":-2.6},{"p":2,"k":"L","s":"DKSVGP","f":0,"e":2190,"v":0.3},{"p":2,"k":"L","s":"DKSVGP","f":0,"e":2278,"v":-2.55},{"p":2,"k":"L","s":"DKSVGP","f":0,"e":2369,"v":2.5},{"p":2,"k":"L","s":"DKSVGP","f":0,"e":2464,"v":-2.5},{"p":2,"k":"L","s":"DKSVGP","f":0,"e":2562,"v":2.5},{"p":2,"k":"L","s":"DKSVGP","f":0,"e":2665,"v":-2.45},{"p":2,"k":"L","s":"DKSVGP","f":0,"e":2771,"v":2.5},{"p":2,"k":"L","s":"DKSVGP","f":0,"e":2882,"v":-2.4},{"p":2,"k":"L","s":"DKSVGP","f":0,"e":2998,"v":2.5},{"p":2,"k":"L","s":"DKSVGP","f":0,"e":3117,"v":-2.35},{"p":2,"k":"L","s":"DKSVGP","f":0,"e":3242,"v":2.5},{"p":2,"k":"L","s":"DKSVGP","f":0,"e":3372,"v":-2.3},{"p":2,"k":"L","s":"DKSVGP","f":0,"e":3507,"v":1.5},{"p":2,"k":"L","s":"DKSVGP","f":0,"e":3647,"v":-2.3},{"p":2,"k":"L","s":"DKSVGP","f":0,"e":3793,"v":2.5},{"p":2,"k":"L","s":"DKSVGP","f":0,"e":3945,"v":-2.35},{"p":2,"k":"L","s":"DKSVGP","f":0,"e":4000,"v":2.5},
{"p":2,"k":"L","s":"SVGP","f":0,"e":0.66,"v":0.75},{"p":2,"k":"L","s":"SVGP","f":0,"e":1,"v":0.75},{"p":2,"k":"L","s":"SVGP","f":0,"e":2.4,"v":0.5},{"p":2,"k":"L","s":"SVGP","f":0,"e":3.8,"v":0.0},{"p":2,"k":"L","s":"SVGP","f":0,"e":5.9,"v":-0.67},{"p":2,"k":"L","s":"SVGP","f":0,"e":7.7,"v":-0.58},{"p":2,"k":"L","s":"SVGP","f":0,"e":9.2,"v":-0.17},{"p":2,"k":"L","s":"SVGP","f":0,"e":11,"v":0.08},{"p":2,"k":"L","s":"SVGP","f":0,"e":12.5,"v":2.5},{"p":2,"k":"L","s":"SVGP","f":0,"e":13.2,"v":0.0},{"p":2,"k":"L","s":"SVGP","f":0,"e":14.3,"v":-0.2},{"p":2,"k":"L","s":"SVGP","f":0,"e":15,"v":2.5},{"p":2,"k":"L","s":"SVGP","f":0,"e":16.6,"v":0.3},{"p":2,"k":"L","s":"SVGP","f":0,"e":18,"v":2.5},{"p":2,"k":"L","s":"SVGP","f":0,"e":19.4,"v":-0.2},{"p":2,"k":"L","s":"SVGP","f":0,"e":21,"v":2.5},{"p":2,"k":"L","s":"SVGP","f":0,"e":22.6,"v":0.2},{"p":2,"k":"L","s":"SVGP","f":0,"e":24.4,"v":2.5},{"p":2,"k":"L","s":"SVGP","f":0,"e":26.4,"v":-1.15},{"p":2,"k":"L","s":"SVGP","f":0,"e":28.5,"v":2.5},{"p":2,"k":"L","s":"SVGP","f":0,"e":30.8,"v":-0.3},{"p":2,"k":"L","s":"SVGP","f":0,"e":33.2,"v":2.5},{"p":2,"k":"L","s":"SVGP","f":0,"e":35.9,"v":-0.8},{"p":2,"k":"L","s":"SVGP","f":0,"e":38.8,"v":2.5},{"p":2,"k":"L","s":"SVGP","f":0,"e":41.9,"v":-1.4},{"p":2,"k":"L","s":"SVGP","f":0,"e":45.2,"v":2.5},{"p":2,"k":"L","s":"SVGP","f":0,"e":48.8,"v":-0.9},{"p":2,"k":"L","s":"SVGP","f":0,"e":52.7,"v":2.5},{"p":2,"k":"L","s":"SVGP","f":0,"e":57,"v":-0.6},{"p":2,"k":"L","s":"SVGP","f":0,"e":61.5,"v":2.5},{"p":2,"k":"L","s":"SVGP","f":0,"e":64,"v":-1.15},{"p":2,"k":"L","s":"SVGP","f":0,"e":66.4,"v":2.5},{"p":2,"k":"L","s":"SVGP","f":0,"e":71.7,"v":-0.4},{"p":2,"k":"L","s":"SVGP","f":0,"e":77.5,"v":2.5},{"p":2,"k":"L","s":"SVGP","f":0,"e":83.7,"v":-0.8},{"p":2,"k":"L","s":"SVGP","f":0,"e":90.4,"v":-1.3},{"p":2,"k":"L","s":"SVGP","f":0,"e":97.6,"v":2.5},{"p":2,"k":"L","s":"SVGP","f":0,"e":105,"v":-0.7},{"p":2,"k":"L","s":"SVGP","f":0,"e":114,"v":2.5},{"p":2,"k":"L","s":"SVGP","f":0,"e":123,"v":-0.5},{"p":2,"k":"L","s":"SVGP","f":0,"e":133,"v":-0.7},{"p":2,"k":"L","s":"SVGP","f":0,"e":143,"v":2.5},{"p":2,"k":"L","s":"SVGP","f":0,"e":155,"v":-0.35},{"p":2,"k":"L","s":"SVGP","f":0,"e":167,"v":2.5},{"p":2,"k":"L","s":"SVGP","f":0,"e":181,"v":0.5},
{"p":2,"k":"L","s":"SVGP","f":1,"e":181,"v":0.5},{"p":2,"k":"L","s":"SVGP","f":1,"e":195,"v":2.5},{"p":2,"k":"L","s":"SVGP","f":1,"e":200,"v":0.6},{"p":2,"k":"L","s":"SVGP","f":1,"e":208,"v":2.5},{"p":2,"k":"L","s":"SVGP","f":1,"e":216,"v":0.3},{"p":2,"k":"L","s":"SVGP","f":1,"e":225,"v":2.5},{"p":2,"k":"L","s":"SVGP","f":1,"e":234,"v":0.8},{"p":2,"k":"L","s":"SVGP","f":1,"e":243,"v":2.5},{"p":2,"k":"L","s":"SVGP","f":1,"e":253,"v":0.5},{"p":2,"k":"L","s":"SVGP","f":1,"e":263,"v":2.5},{"p":2,"k":"L","s":"SVGP","f":1,"e":274,"v":1.0},{"p":2,"k":"L","s":"SVGP","f":1,"e":285,"v":2.5},{"p":2,"k":"L","s":"SVGP","f":1,"e":296,"v":0.4},{"p":2,"k":"L","s":"SVGP","f":1,"e":308,"v":2.5},{"p":2,"k":"L","s":"SVGP","f":1,"e":320,"v":0.7},{"p":2,"k":"L","s":"SVGP","f":1,"e":333,"v":2.5},{"p":2,"k":"L","s":"SVGP","f":1,"e":346,"v":0.5},{"p":2,"k":"L","s":"SVGP","f":1,"e":360,"v":2.5},{"p":2,"k":"L","s":"SVGP","f":1,"e":375,"v":0.9},{"p":2,"k":"L","s":"SVGP","f":1,"e":390,"v":2.5},{"p":2,"k":"L","s":"SVGP","f":1,"e":405,"v":0.4},{"p":2,"k":"L","s":"SVGP","f":1,"e":421,"v":2.5},{"p":2,"k":"L","s":"SVGP","f":1,"e":438,"v":0.6},{"p":2,"k":"L","s":"SVGP","f":1,"e":456,"v":2.5},{"p":2,"k":"L","s":"SVGP","f":1,"e":474,"v":0.3},{"p":2,"k":"L","s":"SVGP","f":1,"e":493,"v":2.5},{"p":2,"k":"L","s":"SVGP","f":1,"e":513,"v":0.8},{"p":2,"k":"L","s":"SVGP","f":1,"e":533,"v":2.5},{"p":2,"k":"L","s":"SVGP","f":1,"e":555,"v":0.5},{"p":2,"k":"L","s":"SVGP","f":1,"e":577,"v":2.5},{"p":2,"k":"L","s":"SVGP","f":1,"e":600,"v":0.7},{"p":2,"k":"L","s":"SVGP","f":1,"e":624,"v":2.5},{"p":2,"k":"L","s":"SVGP","f":1,"e":649,"v":0.4},{"p":2,"k":"L","s":"SVGP","f":1,"e":675,"v":2.5},{"p":2,"k":"L","s":"SVGP","f":1,"e":702,"v":0.6},{"p":2,"k":"L","s":"SVGP","f":1,"e":730,"v":2.5},{"p":2,"k":"L","s":"SVGP","f":1,"e":759,"v":0.3},{"p":2,"k":"L","s":"SVGP","f":1,"e":790,"v":2.5},{"p":2,"k":"L","s":"SVGP","f":1,"e":821,"v":0.7},{"p":2,"k":"L","s":"SVGP","f":1,"e":854,"v":2.5},{"p":2,"k":"L","s":"SVGP","f":1,"e":888,"v":0.5},{"p":2,"k":"L","s":"SVGP","f":1,"e":924,"v":2.5},{"p":2,"k":"L","s":"SVGP","f":1,"e":961,"v":0.8},{"p":2,"k":"L","s":"SVGP","f":1,"e":999,"v":2.5},{"p":2,"k":"L","s":"SVGP","f":1,"e":1039,"v":0.4},{"p":2,"k":"L","s":"SVGP","f":1,"e":1081,"v":2.5},{"p":2,"k":"L","s":"SVGP","f":1,"e":1124,"v":0.6},{"p":2,"k":"L","s":"SVGP","f":1,"e":1169,"v":2.5},{"p":2,"k":"L","s":"SVGP","f":1,"e":1216,"v":0.3},{"p":2,"k":"L","s":"SVGP","f":1,"e":1265,"v":2.5},{"p":2,"k":"L","s":"SVGP","f":1,"e":1315,"v":0.7},{"p":2,"k":"L","s":"SVGP","f":1,"e":1368,"v":2.5},{"p":2,"k":"L","s":"SVGP","f":1,"e":1423,"v":0.5},{"p":2,"k":"L","s":"SVGP","f":1,"e":1480,"v":2.5},{"p":2,"k":"L","s":"SVGP","f":1,"e":1539,"v":0.8},{"p":2,"k":"L","s":"SVGP","f":1,"e":1600,"v":2.5},{"p":2,"k":"L","s":"SVGP","f":1,"e":1664,"v":0.4},{"p":2,"k":"L","s":"SVGP","f":1,"e":1731,"v":2.5},{"p":2,"k":"L","s":"SVGP","f":1,"e":1800,"v":0.6},{"p":2,"k":"L","s":"SVGP","f":1,"e":1872,"v":2.5},{"p":2,"k":"L","s":"SVGP","f":1,"e":1947,"v":0.3},{"p":2,"k":"L","s":"SVGP","f":1,"e":2025,"v":2.5},{"p":2,"k":"L","s":"SVGP","f":1,"e":2106,"v":0.7},{"p":2,"k":"L","s":"SVGP","f":1,"e":2190,"v":2.5},{"p":2,"k":"L","s":"SVGP","f":1,"e":2278,"v":0.5},{"p":2,"k":"L","s":"SVGP","f":1,"e":2369,"v":2.5},{"p":2,"k":"L","s":"SVGP","f":1,"e":2464,"v":0.8},{"p":2,"k":"L","s":"SVGP","f":1,"e":2562,"v":2.5},{"p":2,"k":"L","s":"SVGP","f":1,"e":2665,"v":0.4},{"p":2,"k":"L","s":"SVGP","f":1,"e":2771,"v":2.5},{"p":2,"k":"L","s":"SVGP","f":1,"e":2882,"v":0.6},{"p":2,"k":"L","s":"SVGP","f":1,"e":2998,"v":2.5},{"p":2,"k":"L","s":"SVGP","f":1,"e":3117,"v":0.3},{"p":2,"k":"L","s":"SVGP","f":1,"e":3242,"v":2.5},{"p":2,"k":"L","s":"SVGP","f":1,"e":3372,"v":0.7},{"p":2,"k":"L","s":"SVGP","f":1,"e":3507,"v":2.5},{"p":2,"k":"L","s":"SVGP","f":1,"e":3647,"v":0.5},{"p":2,"k":"L","s":"SVGP","f":1,"e":3793,"v":2.5},{"p":2,"k":"L","s":"SVGP","f":1,"e":3945,"v":0.6},{"p":2,"k":"L","s":"SVGP","f":1,"e":4000,"v":2.5},
{"p":2,"k":"L","s":"DKSGP","f":0,"e":0.66,"v":0.63},{"p":2,"k":"L","s":"DKSGP","f":0,"e":1,"v":0.63},{"p":2,"k":"L","s":"DKSGP","f":0,"e":9.2,"v":0.55},{"p":2,"k":"L","s":"DKSGP","f":0,"e":34.6,"v":0.5},{"p":2,"k":"L","s":"DKSGP","f":0,"e":64,"v":0.33},{"p":2,"k":"L","s":"DKSGP","f":0,"e":110,"v":0.08},{"p":2,"k":"L","s":"DKSGP","f":0,"e":150,"v":-0.1},{"p":2,"k":"L","s":"DKSGP","f":0,"e":187,"v":-0.33},{"p":2,"k":"L","s":"DKSGP","f":0,"e":250,"v":-0.8},{"p":2,"k":"L","s":"DKSGP","f":0,"e":318,"v":-1.33},{"p":2,"k":"L","s":"DKSGP","f":0,"e":450,"v":-2.0},{"p":2,"k":"L","s":"DKSGP","f":0,"e":560,"v":-2.5},{"p":2,"k":"L","s":"DKSGP","f":0,"e":680,"v":-2.92},
{"p":2,"k":"L","s":"DKSGP","f":1,"e":680,"v":-2.92},{"p":2,"k":"L","s":"DKSGP","f":1,"e":702,"v":-3.0},{"p":2,"k":"L","s":"DKSGP","f":1,"e":730,"v":-3.2},{"p":2,"k":"L","s":"DKSGP","f":1,"e":759,"v":-3.1},{"p":2,"k":"L","s":"DKSGP","f":1,"e":790,"v":-3.4},{"p":2,"k":"L","s":"DKSGP","f":1,"e":821,"v":-3.2},{"p":2,"k":"L","s":"DKSGP","f":1,"e":854,"v":-3.6},{"p":2,"k":"L","s":"DKSGP","f":1,"e":888,"v":-3.1},{"p":2,"k":"L","s":"DKSGP","f":1,"e":924,"v":-3.7},{"p":2,"k":"L","s":"DKSGP","f":1,"e":961,"v":-3.3},{"p":2,"k":"L","s":"DKSGP","f":1,"e":999,"v":-4.0},{"p":2,"k":"L","s":"DKSGP","f":1,"e":1039,"v":-3.2},{"p":2,"k":"L","s":"DKSGP","f":1,"e":1081,"v":-4.1},{"p":2,"k":"L","s":"DKSGP","f":1,"e":1124,"v":-3.4},{"p":2,"k":"L","s":"DKSGP","f":1,"e":1169,"v":-4.3},{"p":2,"k":"L","s":"DKSGP","f":1,"e":1216,"v":-3.0},{"p":2,"k":"L","s":"DKSGP","f":1,"e":1265,"v":-4.4},{"p":2,"k":"L","s":"DKSGP","f":1,"e":1315,"v":-3.5},{"p":2,"k":"L","s":"DKSGP","f":1,"e":1368,"v":-4.6},{"p":2,"k":"L","s":"DKSGP","f":1,"e":1423,"v":-3.2},{"p":2,"k":"L","s":"DKSGP","f":1,"e":1480,"v":-4.7},{"p":2,"k":"L","s":"DKSGP","f":1,"e":1539,"v":-3.6},{"p":2,"k":"L","s":"DKSGP","f":1,"e":1600,"v":-4.85},{"p":2,"k":"L","s":"DKSGP","f":1,"e":1664,"v":-3.3},{"p":2,"k":"L","s":"DKSGP","f":1,"e":1731,"v":-5.0},{"p":2,"k":"L","s":"DKSGP","f":1,"e":1800,"v":-3.5},{"p":2,"k":"L","s":"DKSGP","f":1,"e":1872,"v":-5.1},{"p":2,"k":"L","s":"DKSGP","f":1,"e":1947,"v":-3.2},{"p":2,"k":"L","s":"DKSGP","f":1,"e":2025,"v":-0.4},{"p":2,"k":"L","s":"DKSGP","f":1,"e":2106,"v":-5.2},{"p":2,"k":"L","s":"DKSGP","f":1,"e":2190,"v":-3.3},{"p":2,"k":"L","s":"DKSGP","f":1,"e":2278,"v":-5.3},{"p":2,"k":"L","s":"DKSGP","f":1,"e":2369,"v":-3.0},{"p":2,"k":"L","s":"DKSGP","f":1,"e":2464,"v":-5.45},{"p":2,"k":"L","s":"DKSGP","f":1,"e":2562,"v":-3.2},{"p":2,"k":"L","s":"DKSGP","f":1,"e":2665,"v":-5.5},{"p":2,"k":"L","s":"DKSGP","f":1,"e":2771,"v":-2.8},{"p":2,"k":"L","s":"DKSGP","f":1,"e":2882,"v":-5.6},{"p":2,"k":"L","s":"DKSGP","f":1,"e":2998,"v":-3.0},{"p":2,"k":"L","s":"DKSGP","f":1,"e":3117,"v":-5.7},{"p":2,"k":"L","s":"DKSGP","f":1,"e":3242,"v":-2.6},{"p":2,"k":"L","s":"DKSGP","f":1,"e":3372,"v":-5.8},{"p":2,"k":"L","s":"DKSGP","f":1,"e":3507,"v":-2.2},{"p":2,"k":"L","s":"DKSGP","f":1,"e":3647,"v":-5.9},{"p":2,"k":"L","s":"DKSGP","f":1,"e":3793,"v":-4.0},{"p":2,"k":"L","s":"DKSGP","f":1,"e":3945,"v":-6.0},{"p":2,"k":"L","s":"DKSGP","f":1,"e":4000,"v":-5.2},
{"p":2,"k":"L","s":"SGP","f":0,"e":0.66,"v":1.47},{"p":2,"k":"L","s":"SGP","f":0,"e":1,"v":1.47},{"p":2,"k":"L","s":"SGP","f":0,"e":2.03,"v":1.33},{"p":2,"k":"L","s":"SGP","f":0,"e":3.8,"v":0.92},{"p":2,"k":"L","s":"SGP","f":0,"e":6,"v":0.7},{"p":2,"k":"L","s":"SGP","f":0,"e":8.0,"v":0.58},{"p":2,"k":"L","s":"SGP","f":0,"e":8.2,"v":4},{"p":2,"k":"L","s":"SGP","f":0,"e":14,"v":4},{"p":2,"k":"L","s":"SGP","f":0,"e":15.6,"v":2.0},{"p":2,"k":"L","s":"SGP","f":0,"e":17.9,"v":1.0},{"p":2,"k":"L","s":"SGP","f":0,"e":20.4,"v":0},{"p":2,"k":"L","s":"SGP","f":0,"e":23.4,"v":-0.75},{"p":2,"k":"L","s":"SGP","f":0,"e":25.5,"v":-1.67},{"p":2,"k":"L","s":"SGP","f":0,"e":26.6,"v":-3.0},{"p":2,"k":"L","s":"SGP","f":0,"e":31.8,"v":-3.4},{"p":2,"k":"L","s":"SGP","f":0,"e":38,"v":-3.3},{"p":2,"k":"L","s":"SGP","f":0,"e":49.5,"v":-3.5},{"p":2,"k":"L","s":"SGP","f":0,"e":62,"v":-3.45},{"p":2,"k":"L","s":"SGP","f":0,"e":67,"v":-3.25},{"p":2,"k":"L","s":"SGP","f":0,"e":73,"v":-3.5},{"p":2,"k":"L","s":"SGP","f":0,"e":98,"v":-3.58},{"p":2,"k":"L","s":"SGP","f":0,"e":105,"v":-4.2},{"p":2,"k":"L","s":"SGP","f":0,"e":131,"v":-4.67},{"p":2,"k":"L","s":"SGP","f":0,"e":187,"v":-4.87},{"p":2,"k":"L","s":"SGP","f":0,"e":318,"v":-4.97},{"p":2,"k":"L","s":"SGP","f":0,"e":776,"v":-5.0},{"p":2,"k":"L","s":"SGP","f":0,"e":3210,"v":-5.04},
{"p":2,"k":"L","s":"SGP","f":1,"e":3210,"v":-5.04},{"p":2,"k":"L","s":"SGP","f":1,"e":4000,"v":-5.04},
{"p":2,"k":"R","s":"DKSVGP","f":0,"e":0.66,"v":5.8},{"p":2,"k":"R","s":"DKSVGP","f":0,"e":56,"v":5.8},{"p":2,"k":"R","s":"DKSVGP","f":0,"e":120,"v":12.6},{"p":2,"k":"R","s":"DKSVGP","f":0,"e":172,"v":4.9},{"p":2,"k":"R","s":"DKSVGP","f":0,"e":222,"v":10},{"p":2,"k":"R","s":"DKSVGP","f":0,"e":318,"v":13},{"p":2,"k":"R","s":"DKSVGP","f":0,"e":400,"v":12},{"p":2,"k":"R","s":"DKSVGP","f":0,"e":450,"v":27},{"p":2,"k":"R","s":"DKSVGP","f":0,"e":520,"v":10},{"p":2,"k":"R","s":"DKSVGP","f":0,"e":600,"v":17},{"p":2,"k":"R","s":"DKSVGP","f":0,"e":680,"v":8},{"p":2,"k":"R","s":"DKSVGP","f":0,"e":700,"v":33},{"p":2,"k":"R","s":"DKSVGP","f":0,"e":730,"v":9},{"p":2,"k":"R","s":"DKSVGP","f":0,"e":759,"v":14},{"p":2,"k":"R","s":"DKSVGP","f":0,"e":790,"v":87},{"p":2,"k":"R","s":"DKSVGP","f":0,"e":821,"v":10},{"p":2,"k":"R","s":"DKSVGP","f":0,"e":854,"v":15},{"p":2,"k":"R","s":"DKSVGP","f":0,"e":888,"v":9},{"p":2,"k":"R","s":"DKSVGP","f":0,"e":924,"v":20},{"p":2,"k":"R","s":"DKSVGP","f":0,"e":961,"v":10},{"p":2,"k":"R","s":"DKSVGP","f":0,"e":999,"v":15},{"p":2,"k":"R","s":"DKSVGP","f":0,"e":1039,"v":8.5},{"p":2,"k":"R","s":"DKSVGP","f":0,"e":1081,"v":18},{"p":2,"k":"R","s":"DKSVGP","f":0,"e":1124,"v":9},{"p":2,"k":"R","s":"DKSVGP","f":0,"e":1169,"v":12},{"p":2,"k":"R","s":"DKSVGP","f":0,"e":1216,"v":25},{"p":2,"k":"R","s":"DKSVGP","f":0,"e":1265,"v":8},{"p":2,"k":"R","s":"DKSVGP","f":0,"e":1315,"v":14},{"p":2,"k":"R","s":"DKSVGP","f":0,"e":1368,"v":7},{"p":2,"k":"R","s":"DKSVGP","f":0,"e":1423,"v":12},{"p":2,"k":"R","s":"DKSVGP","f":0,"e":1480,"v":6.5},{"p":2,"k":"R","s":"DKSVGP","f":0,"e":1539,"v":15},{"p":2,"k":"R","s":"DKSVGP","f":0,"e":1600,"v":8},{"p":2,"k":"R","s":"DKSVGP","f":0,"e":1664,"v":11},{"p":2,"k":"R","s":"DKSVGP","f":0,"e":1731,"v":7},{"p":2,"k":"R","s":"DKSVGP","f":0,"e":1800,"v":16},{"p":2,"k":"R","s":"DKSVGP","f":0,"e":1872,"v":9},{"p":2,"k":"R","s":"DKSVGP","f":0,"e":1947,"v":14},{"p":2,"k":"R","s":"DKSVGP","f":0,"e":2025,"v":7.5},{"p":2,"k":"R","s":"DKSVGP","f":0,"e":2106,"v":20},{"p":2,"k":"R","s":"DKSVGP","f":0,"e":2190,"v":9},{"p":2,"k":"R","s":"DKSVGP","f":0,"e":2278,"v":30},{"p":2,"k":"R","s":"DKSVGP","f":0,"e":2369,"v":10},{"p":2,"k":"R","s":"DKSVGP","f":0,"e":2464,"v":14},{"p":2,"k":"R","s":"DKSVGP","f":0,"e":2562,"v":8},{"p":2,"k":"R","s":"DKSVGP","f":0,"e":2665,"v":131},{"p":2,"k":"R","s":"DKSVGP","f":0,"e":2771,"v":10},{"p":2,"k":"R","s":"DKSVGP","f":0,"e":2882,"v":20},{"p":2,"k":"R","s":"DKSVGP","f":0,"e":2998,"v":9},{"p":2,"k":"R","s":"DKSVGP","f":0,"e":3117,"v":45},{"p":2,"k":"R","s":"DKSVGP","f":0,"e":3242,"v":10},{"p":2,"k":"R","s":"DKSVGP","f":0,"e":3372,"v":18},{"p":2,"k":"R","s":"DKSVGP","f":0,"e":3507,"v":8},{"p":2,"k":"R","s":"DKSVGP","f":0,"e":3647,"v":15},{"p":2,"k":"R","s":"DKSVGP","f":0,"e":3793,"v":9},{"p":2,"k":"R","s":"DKSVGP","f":0,"e":3945,"v":13},{"p":2,"k":"R","s":"DKSVGP","f":0,"e":4000,"v":11.5},
{"p":2,"k":"R","s":"SVGP","f":0,"e":0.66,"v":33},{"p":2,"k":"R","s":"SVGP","f":0,"e":56,"v":33},{"p":2,"k":"R","s":"SVGP","f":0,"e":92,"v":21.6},{"p":2,"k":"R","s":"SVGP","f":0,"e":181,"v":11.4},
{"p":2,"k":"R","s":"SVGP","f":1,"e":181,"v":11.4},{"p":2,"k":"R","s":"SVGP","f":1,"e":200,"v":15},{"p":2,"k":"R","s":"SVGP","f":1,"e":222,"v":19.6},{"p":2,"k":"R","s":"SVGP","f":1,"e":250,"v":15},{"p":2,"k":"R","s":"SVGP","f":1,"e":280,"v":17},{"p":2,"k":"R","s":"SVGP","f":1,"e":318,"v":20},{"p":2,"k":"R","s":"SVGP","f":1,"e":380,"v":30},{"p":2,"k":"R","s":"SVGP","f":1,"e":450,"v":40},{"p":2,"k":"R","s":"SVGP","f":1,"e":520,"v":56},{"p":2,"k":"R","s":"SVGP","f":1,"e":600,"v":60},{"p":2,"k":"R","s":"SVGP","f":1,"e":680,"v":120},{"p":2,"k":"R","s":"SVGP","f":1,"e":740,"v":100},{"p":2,"k":"R","s":"SVGP","f":1,"e":800,"v":80},{"p":2,"k":"R","s":"SVGP","f":1,"e":850,"v":120},{"p":2,"k":"R","s":"SVGP","f":1,"e":920,"v":100},{"p":2,"k":"R","s":"SVGP","f":1,"e":1000,"v":90},{"p":2,"k":"R","s":"SVGP","f":1,"e":1100,"v":120},{"p":2,"k":"R","s":"SVGP","f":1,"e":1200,"v":150},{"p":2,"k":"R","s":"SVGP","f":1,"e":1300,"v":100},{"p":2,"k":"R","s":"SVGP","f":1,"e":1450,"v":120},{"p":2,"k":"R","s":"SVGP","f":1,"e":1600,"v":180},{"p":2,"k":"R","s":"SVGP","f":1,"e":1750,"v":130},{"p":2,"k":"R","s":"SVGP","f":1,"e":1900,"v":150},{"p":2,"k":"R","s":"SVGP","f":1,"e":2050,"v":180},{"p":2,"k":"R","s":"SVGP","f":1,"e":2200,"v":160},{"p":2,"k":"R","s":"SVGP","f":1,"e":2400,"v":200},{"p":2,"k":"R","s":"SVGP","f":1,"e":2600,"v":170},{"p":2,"k":"R","s":"SVGP","f":1,"e":2800,"v":210},{"p":2,"k":"R","s":"SVGP","f":1,"e":2950,"v":150},{"p":2,"k":"R","s":"SVGP","f":1,"e":3070,"v":2900},{"p":2,"k":"R","s":"SVGP","f":1,"e":3150,"v":180},{"p":2,"k":"R","s":"SVGP","f":1,"e":3300,"v":250},{"p":2,"k":"R","s":"SVGP","f":1,"e":3500,"v":180},{"p":2,"k":"R","s":"SVGP","f":1,"e":3700,"v":250},{"p":2,"k":"R","s":"SVGP","f":1,"e":3850,"v":150},{"p":2,"k":"R","s":"SVGP","f":1,"e":4000,"v":183},
{"p":2,"k":"R","s":"DKSGP","f":0,"e":0.66,"v":100},{"p":2,"k":"R","s":"DKSGP","f":0,"e":1,"v":100},{"p":2,"k":"R","s":"DKSGP","f":0,"e":3.8,"v":81},{"p":2,"k":"R","s":"DKSGP","f":0,"e":9.2,"v":56},{"p":2,"k":"R","s":"DKSGP","f":0,"e":22,"v":33},{"p":2,"k":"R","s":"DKSGP","f":0,"e":54,"v":19.6},{"p":2,"k":"R","s":"DKSGP","f":0,"e":110,"v":11.6},{"p":2,"k":"R","s":"DKSGP","f":0,"e":172,"v":7.4},{"p":2,"k":"R","s":"DKSGP","f":0,"e":181,"v":9},{"p":2,"k":"R","s":"DKSGP","f":0,"e":190,"v":6.8},{"p":2,"k":"R","s":"DKSGP","f":0,"e":200,"v":10},{"p":2,"k":"R","s":"DKSGP","f":0,"e":208,"v":6.5},{"p":2,"k":"R","s":"DKSGP","f":0,"e":216,"v":9},{"p":2,"k":"R","s":"DKSGP","f":0,"e":225,"v":12},{"p":2,"k":"R","s":"DKSGP","f":0,"e":234,"v":6},{"p":2,"k":"R","s":"DKSGP","f":0,"e":243,"v":9},{"p":2,"k":"R","s":"DKSGP","f":0,"e":253,"v":5.8},{"p":2,"k":"R","s":"DKSGP","f":0,"e":263,"v":9.5},{"p":2,"k":"R","s":"DKSGP","f":0,"e":274,"v":5.5},{"p":2,"k":"R","s":"DKSGP","f":0,"e":285,"v":8.5},{"p":2,"k":"R","s":"DKSGP","f":0,"e":296,"v":5.2},{"p":2,"k":"R","s":"DKSGP","f":0,"e":308,"v":10},{"p":2,"k":"R","s":"DKSGP","f":0,"e":320,"v":5},{"p":2,"k":"R","s":"DKSGP","f":0,"e":333,"v":8},{"p":2,"k":"R","s":"DKSGP","f":0,"e":346,"v":4.6},{"p":2,"k":"R","s":"DKSGP","f":0,"e":360,"v":8.5},{"p":2,"k":"R","s":"DKSGP","f":0,"e":375,"v":4.3},{"p":2,"k":"R","s":"DKSGP","f":0,"e":390,"v":7.5},{"p":2,"k":"R","s":"DKSGP","f":0,"e":405,"v":4},{"p":2,"k":"R","s":"DKSGP","f":0,"e":421,"v":8},{"p":2,"k":"R","s":"DKSGP","f":0,"e":438,"v":3.8},{"p":2,"k":"R","s":"DKSGP","f":0,"e":456,"v":7.5},{"p":2,"k":"R","s":"DKSGP","f":0,"e":474,"v":3.6},{"p":2,"k":"R","s":"DKSGP","f":0,"e":493,"v":7},{"p":2,"k":"R","s":"DKSGP","f":0,"e":513,"v":3.4},{"p":2,"k":"R","s":"DKSGP","f":0,"e":533,"v":7},{"p":2,"k":"R","s":"DKSGP","f":0,"e":555,"v":3.2},{"p":2,"k":"R","s":"DKSGP","f":0,"e":577,"v":6.5},{"p":2,"k":"R","s":"DKSGP","f":0,"e":600,"v":3},{"p":2,"k":"R","s":"DKSGP","f":0,"e":624,"v":6},{"p":2,"k":"R","s":"DKSGP","f":0,"e":649,"v":2.7},{"p":2,"k":"R","s":"DKSGP","f":0,"e":680,"v":2.1},
{"p":2,"k":"R","s":"DKSGP","f":1,"e":680,"v":2.1},{"p":2,"k":"R","s":"DKSGP","f":1,"e":702,"v":3.5},{"p":2,"k":"R","s":"DKSGP","f":1,"e":730,"v":1.9},{"p":2,"k":"R","s":"DKSGP","f":1,"e":759,"v":3.2},{"p":2,"k":"R","s":"DKSGP","f":1,"e":790,"v":1.8},{"p":2,"k":"R","s":"DKSGP","f":1,"e":821,"v":7.4},{"p":2,"k":"R","s":"DKSGP","f":1,"e":854,"v":1.6},{"p":2,"k":"R","s":"DKSGP","f":1,"e":888,"v":3},{"p":2,"k":"R","s":"DKSGP","f":1,"e":924,"v":1.4},{"p":2,"k":"R","s":"DKSGP","f":1,"e":961,"v":3},{"p":2,"k":"R","s":"DKSGP","f":1,"e":999,"v":1.2},{"p":2,"k":"R","s":"DKSGP","f":1,"e":1039,"v":4},{"p":2,"k":"R","s":"DKSGP","f":1,"e":1081,"v":1.05},{"p":2,"k":"R","s":"DKSGP","f":1,"e":1124,"v":2.5},{"p":2,"k":"R","s":"DKSGP","f":1,"e":1169,"v":0.85},{"p":2,"k":"R","s":"DKSGP","f":1,"e":1216,"v":29},{"p":2,"k":"R","s":"DKSGP","f":1,"e":1265,"v":0.8},{"p":2,"k":"R","s":"DKSGP","f":1,"e":1315,"v":2.2},{"p":2,"k":"R","s":"DKSGP","f":1,"e":1368,"v":0.72},{"p":2,"k":"R","s":"DKSGP","f":1,"e":1423,"v":2},{"p":2,"k":"R","s":"DKSGP","f":1,"e":1480,"v":0.65},{"p":2,"k":"R","s":"DKSGP","f":1,"e":1539,"v":1.8},{"p":2,"k":"R","s":"DKSGP","f":1,"e":1600,"v":0.6},{"p":2,"k":"R","s":"DKSGP","f":1,"e":1664,"v":1.7},{"p":2,"k":"R","s":"DKSGP","f":1,"e":1731,"v":0.55},{"p":2,"k":"R","s":"DKSGP","f":1,"e":1800,"v":1.6},{"p":2,"k":"R","s":"DKSGP","f":1,"e":1872,"v":0.5},{"p":2,"k":"R","s":"DKSGP","f":1,"e":1947,"v":1.5},{"p":2,"k":"R","s":"DKSGP","f":1,"e":2025,"v":0.45},{"p":2,"k":"R","s":"DKSGP","f":1,"e":2106,"v":1.5},{"p":2,"k":"R","s":"DKSGP","f":1,"e":2190,"v":0.42},{"p":2,"k":"R","s":"DKSGP","f":1,"e":2278,"v":1.3},{"p":2,"k":"R","s":"DKSGP","f":1,"e":2369,"v":0.4},{"p":2,"k":"R","s":"DKSGP","f":1,"e":2464,"v":1.2},{"p":2,"k":"R","s":"DKSGP","f":1,"e":2562,"v":0.38},{"p":2,"k":"R","s":"DKSGP","f":1,"e":2665,"v":1.1},{"p":2,"k":"R","s":"DKSGP","f":1,"e":2771,"v":0.36},{"p":2,"k":"R","s":"DKSGP","f":1,"e":2882,"v":1.1},{"p":2,"k":"R","s":"DKSGP","f":1,"e":2998,"v":0.34},{"p":2,"k":"R","s":"DKSGP","f":1,"e":3117,"v":1.0},{"p":2,"k":"R","s":"DKSGP","f":1,"e":3242,"v":0.33},{"p":2,"k":"R","s":"DKSGP","f":1,"e":3372,"v":1.05},{"p":2,"k":"R","s":"DKSGP","f":1,"e":3507,"v":0.32},{"p":2,"k":"R","s":"DKSGP","f":1,"e":3647,"v":0.9},{"p":2,"k":"R","s":"DKSGP","f":1,"e":3793,"v":0.31},{"p":2,"k":"R","s":"DKSGP","f":1,"e":3945,"v":0.8},{"p":2,"k":"R","s":"DKSGP","f":1,"e":4000,"v":0.3},
{"p":2,"k":"R","s":"SGP","f":0,"e":0.66,"v":309},{"p":2,"k":"R","s":"SGP","f":0,"e":1,"v":309},{"p":2,"k":"R","s":"SGP","f":0,"e":2.03,"v":234},{"p":2,"k":"R","s":"SGP","f":0,"e":4,"v":150},{"p":2,"k":"R","s":"SGP","f":0,"e":7.0,"v":95},{"p":2,"k":"R","s":"SGP","f":0,"e":8,"v":124},{"p":2,"k":"R","s":"SGP","f":0,"e":9.6,"v":56},{"p":2,"k":"R","s":"SGP","f":0,"e":14.3,"v":42},{"p":2,"k":"R","s":"SGP","f":0,"e":22.3,"v":35},{"p":2,"k":"R","s":"SGP","f":0,"e":24.4,"v":21},{"p":2,"k":"R","s":"SGP","f":0,"e":25.5,"v":4.4},{"p":2,"k":"R","s":"SGP","f":0,"e":29,"v":3.2},{"p":2,"k":"R","s":"SGP","f":0,"e":36.3,"v":2.5},{"p":2,"k":"R","s":"SGP","f":0,"e":38,"v":2.9},{"p":2,"k":"R","s":"SGP","f":0,"e":54,"v":2.5},{"p":2,"k":"R","s":"SGP","f":0,"e":67,"v":2.85},{"p":2,"k":"R","s":"SGP","f":0,"e":77,"v":2.4},{"p":2,"k":"R","s":"SGP","f":0,"e":98,"v":2.15},{"p":2,"k":"R","s":"SGP","f":0,"e":105,"v":1.1},{"p":2,"k":"R","s":"SGP","f":0,"e":131,"v":0.74},{"p":2,"k":"R","s":"SGP","f":0,"e":187,"v":0.64},{"p":2,"k":"R","s":"SGP","f":0,"e":318,"v":0.6},{"p":2,"k":"R","s":"SGP","f":0,"e":3210,"v":0.6},
{"p":2,"k":"R","s":"SGP","f":1,"e":3210,"v":0.6},{"p":2,"k":"R","s":"SGP","f":1,"e":4000,"v":0.6},
{"p":3,"k":"L","s":"DKSVGP","f":0,"e":0.66,"v":0.17},{"p":3,"k":"L","s":"DKSVGP","f":0,"e":1,"v":0.17},{"p":3,"k":"L","s":"DKSVGP","f":0,"e":2.45,"v":0.03},{"p":3,"k":"L","s":"DKSVGP","f":0,"e":3.8,"v":-0.5},{"p":3,"k":"L","s":"DKSVGP","f":0,"e":5.4,"v":-0.92},{"p":3,"k":"L","s":"DKSVGP","f":0,"e":6.2,"v":-1.0},{"p":3,"k":"L","s":"DKSVGP","f":0,"e":6.8,"v":-0.5},{"p":3,"k":"L","s":"DKSVGP","f":0,"e":7.4,"v":-1.42},{"p":3,"k":"L","s":"DKSVGP","f":0,"e":8.5,"v":-1.58},{"p":3,"k":"L","s":"DKSVGP","f":0,"e":9.3,"v":2.5},{"p":3,"k":"L","s":"DKSVGP","f":0,"e":10.1,"v":-1.67},
{"p":3,"k":"L","s":"DKSVGP","f":0,"e":10.5,"v":-1.2},{"p":3,"k":"L","s":"DKSVGP","f":0,"e":11.3,"v":-1.9},{"p":3,"k":"L","s":"DKSVGP","f":0,"e":12.2,"v":-1.3},{"p":3,"k":"L","s":"DKSVGP","f":0,"e":13.2,"v":-1.8},{"p":3,"k":"L","s":"DKSVGP","f":0,"e":14.3,"v":2.5},{"p":3,"k":"L","s":"DKSVGP","f":0,"e":15.4,"v":-1.7},{"p":3,"k":"L","s":"DKSVGP","f":0,"e":16.6,"v":-1.2},{"p":3,"k":"L","s":"DKSVGP","f":0,"e":18,"v":-2.0},{"p":3,"k":"L","s":"DKSVGP","f":0,"e":19.4,"v":-1.4},{"p":3,"k":"L","s":"DKSVGP","f":0,"e":21,"v":-2.0},{"p":3,"k":"L","s":"DKSVGP","f":0,"e":22.6,"v":2.5},{"p":3,"k":"L","s":"DKSVGP","f":0,"e":24.4,"v":-2.1},{"p":3,"k":"L","s":"DKSVGP","f":0,"e":26.4,"v":-1.6},{"p":3,"k":"L","s":"DKSVGP","f":0,"e":28.5,"v":-2.2},{"p":3,"k":"L","s":"DKSVGP","f":0,"e":30.8,"v":2.5},{"p":3,"k":"L","s":"DKSVGP","f":0,"e":33.2,"v":-2.2},{"p":3,"k":"L","s":"DKSVGP","f":0,"e":35.9,"v":2.5},{"p":3,"k":"L","s":"DKSVGP","f":0,"e":38.8,"v":-2.25},{"p":3,"k":"L","s":"DKSVGP","f":0,"e":41.9,"v":2.5},{"p":3,"k":"L","s":"DKSVGP","f":0,"e":45.2,"v":-2.25},{"p":3,"k":"L","s":"DKSVGP","f":0,"e":48.8,"v":2.5},{"p":3,"k":"L","s":"DKSVGP","f":0,"e":52.7,"v":-2.3},{"p":3,"k":"L","s":"DKSVGP","f":0,"e":57,"v":2.5},{"p":3,"k":"L","s":"DKSVGP","f":0,"e":61.5,"v":-2.3},{"p":3,"k":"L","s":"DKSVGP","f":0,"e":66.4,"v":2.5},{"p":3,"k":"L","s":"DKSVGP","f":0,"e":71.7,"v":-2.3},{"p":3,"k":"L","s":"DKSVGP","f":0,"e":77.5,"v":2.5},{"p":3,"k":"L","s":"DKSVGP","f":0,"e":83.7,"v":-2.35},{"p":3,"k":"L","s":"DKSVGP","f":0,"e":90.4,"v":2.5},{"p":3,"k":"L","s":"DKSVGP","f":0,"e":97.6,"v":-2.35},{"p":3,"k":"L","s":"DKSVGP","f":0,"e":105,"v":2.5},{"p":3,"k":"L","s":"DKSVGP","f":0,"e":114,"v":-2.35},{"p":3,"k":"L","s":"DKSVGP","f":0,"e":123,"v":2.5},{"p":3,"k":"L","s":"DKSVGP","f":0,"e":133,"v":-2.4},{"p":3,"k":"L","s":"DKSVGP","f":0,"e":143,"v":2.5},{"p":3,"k":"L","s":"DKSVGP","f":0,"e":155,"v":-2.4},{"p":3,"k":"L","s":"DKSVGP","f":0,"e":167,"v":2.5},{"p":3,"k":"L","s":"DKSVGP","f":0,"e":180,"v":-2.4},{"p":3,"k":"L","s":"DKSVGP","f":0,"e":195,"v":2.5},
{"p":3,"k":"L","s":"DKSVGP","f":0,"e":200,"v":-2.35},{"p":3,"k":"L","s":"DKSVGP","f":0,"e":208,"v":2.5},{"p":3,"k":"L","s":"DKSVGP","f":0,"e":216,"v":-2.4},{"p":3,"k":"L","s":"DKSVGP","f":0,"e":225,"v":2.5},{"p":3,"k":"L","s":"DKSVGP","f":0,"e":234,"v":-2.4},{"p":3,"k":"L","s":"DKSVGP","f":0,"e":243,"v":0.5},{"p":3,"k":"L","s":"DKSVGP","f":0,"e":253,"v":-2.45},{"p":3,"k":"L","s":"DKSVGP","f":0,"e":263,"v":2.5},{"p":3,"k":"L","s":"DKSVGP","f":0,"e":274,"v":-2.4},{"p":3,"k":"L","s":"DKSVGP","f":0,"e":285,"v":2.5},{"p":3,"k":"L","s":"DKSVGP","f":0,"e":296,"v":-2.45},{"p":3,"k":"L","s":"DKSVGP","f":0,"e":308,"v":2.5},{"p":3,"k":"L","s":"DKSVGP","f":0,"e":320,"v":-2.4},{"p":3,"k":"L","s":"DKSVGP","f":0,"e":333,"v":1.0},{"p":3,"k":"L","s":"DKSVGP","f":0,"e":346,"v":-2.5},{"p":3,"k":"L","s":"DKSVGP","f":0,"e":360,"v":2.5},{"p":3,"k":"L","s":"DKSVGP","f":0,"e":375,"v":-2.45},{"p":3,"k":"L","s":"DKSVGP","f":0,"e":390,"v":2.5},{"p":3,"k":"L","s":"DKSVGP","f":0,"e":405,"v":-2.5},{"p":3,"k":"L","s":"DKSVGP","f":0,"e":421,"v":2.5},{"p":3,"k":"L","s":"DKSVGP","f":0,"e":438,"v":-2.45},{"p":3,"k":"L","s":"DKSVGP","f":0,"e":456,"v":2.5},{"p":3,"k":"L","s":"DKSVGP","f":0,"e":474,"v":-2.5},{"p":3,"k":"L","s":"DKSVGP","f":0,"e":493,"v":0.0},{"p":3,"k":"L","s":"DKSVGP","f":0,"e":513,"v":-2.45},{"p":3,"k":"L","s":"DKSVGP","f":0,"e":533,"v":2.5},{"p":3,"k":"L","s":"DKSVGP","f":0,"e":555,"v":-2.5},{"p":3,"k":"L","s":"DKSVGP","f":0,"e":577,"v":2.5},{"p":3,"k":"L","s":"DKSVGP","f":0,"e":600,"v":-2.5},{"p":3,"k":"L","s":"DKSVGP","f":0,"e":624,"v":2.5},{"p":3,"k":"L","s":"DKSVGP","f":0,"e":649,"v":-2.45},{"p":3,"k":"L","s":"DKSVGP","f":0,"e":675,"v":2.5},{"p":3,"k":"L","s":"DKSVGP","f":0,"e":702,"v":-2.5},{"p":3,"k":"L","s":"DKSVGP","f":0,"e":730,"v":1.5},{"p":3,"k":"L","s":"DKSVGP","f":0,"e":759,"v":-2.45},{"p":3,"k":"L","s":"DKSVGP","f":0,"e":790,"v":2.5},{"p":3,"k":"L","s":"DKSVGP","f":0,"e":821,"v":-2.5},{"p":3,"k":"L","s":"DKSVGP","f":0,"e":854,"v":2.5},{"p":3,"k":"L","s":"DKSVGP","f":0,"e":888,"v":-2.45},{"p":3,"k":"L","s":"DKSVGP","f":0,"e":924,"v":2.5},{"p":3,"k":"L","s":"DKSVGP","f":0,"e":961,"v":-2.5},{"p":3,"k":"L","s":"DKSVGP","f":0,"e":999,"v":2.5},{"p":3,"k":"L","s":"DKSVGP","f":0,"e":1039,"v":-2.45},{"p":3,"k":"L","s":"DKSVGP","f":0,"e":1081,"v":2.5},{"p":3,"k":"L","s":"DKSVGP","f":0,"e":1124,"v":-2.5},{"p":3,"k":"L","s":"DKSVGP","f":0,"e":1169,"v":0.8},{"p":3,"k":"L","s":"DKSVGP","f":0,"e":1216,"v":-2.45},{"p":3,"k":"L","s":"DKSVGP","f":0,"e":1265,"v":2.5},{"p":3,"k":"L","s":"DKSVGP","f":0,"e":1315,"v":-2.5},{"p":3,"k":"L","s":"DKSVGP","f":0,"e":1368,"v":2.5},{"p":3,"k":"L","s":"DKSVGP","f":0,"e":1423,"v":-2.4},{"p":3,"k":"L","s":"DKSVGP","f":0,"e":1480,"v":2.5},{"p":3,"k":"L","s":"DKSVGP","f":0,"e":1539,"v":-2.45},{"p":3,"k":"L","s":"DKSVGP","f":0,"e":1600,"v":2.5},{"p":3,"k":"L","s":"DKSVGP","f":0,"e":1664,"v":-2.4},{"p":3,"k":"L","s":"DKSVGP","f":0,"e":1731,"v":2.5},{"p":3,"k":"L","s":"DKSVGP","f":0,"e":1800,"v":-2.45},{"p":3,"k":"L","s":"DKSVGP","f":0,"e":1872,"v":1.2},{"p":3,"k":"L","s":"DKSVGP","f":0,"e":1947,"v":-2.4},{"p":3,"k":"L","s":"DKSVGP","f":0,"e":2025,"v":2.5},{"p":3,"k":"L","s":"DKSVGP","f":0,"e":2106,"v":-2.4},{"p":3,"k":"L","s":"DKSVGP","f":0,"e":2190,"v":2.5},{"p":3,"k":"L","s":"DKSVGP","f":0,"e":2278,"v":-2.35},{"p":3,"k":"L","s":"DKSVGP","f":0,"e":2369,"v":2.5},{"p":3,"k":"L","s":"DKSVGP","f":0,"e":2464,"v":-2.4},{"p":3,"k":"L","s":"DKSVGP","f":0,"e":2562,"v":2.5},{"p":3,"k":"L","s":"DKSVGP","f":0,"e":2665,"v":-2.35},{"p":3,"k":"L","s":"DKSVGP","f":0,"e":2771,"v":0.5},{"p":3,"k":"L","s":"DKSVGP","f":0,"e":2882,"v":-2.3},{"p":3,"k":"L","s":"DKSVGP","f":0,"e":2998,"v":2.5},{"p":3,"k":"L","s":"DKSVGP","f":0,"e":3117,"v":-2.3},{"p":3,"k":"L","s":"DKSVGP","f":0,"e":3242,"v":2.5},{"p":3,"k":"L","s":"DKSVGP","f":0,"e":3372,"v":-2.25},{"p":3,"k":"L","s":"DKSVGP","f":0,"e":3507,"v":2.5},{"p":3,"k":"L","s":"DKSVGP","f":0,"e":3647,"v":-2.2},{"p":3,"k":"L","s":"DKSVGP","f":0,"e":3793,"v":2.5},{"p":3,"k":"L","s":"DKSVGP","f":0,"e":3945,"v":-2.1},{"p":3,"k":"L","s":"DKSVGP","f":0,"e":4000,"v":2.5},
{"p":3,"k":"L","s":"SVGP","f":0,"e":0.66,"v":0.33},{"p":3,"k":"L","s":"SVGP","f":0,"e":1,"v":0.33},{"p":3,"k":"L","s":"SVGP","f":0,"e":2.45,"v":0.25},{"p":3,"k":"L","s":"SVGP","f":0,"e":3.8,"v":-0.08},{"p":3,"k":"L","s":"SVGP","f":0,"e":6,"v":-0.13},{"p":3,"k":"L","s":"SVGP","f":0,"e":7.1,"v":0.17},{"p":3,"k":"L","s":"SVGP","f":0,"e":7.8,"v":0.5},{"p":3,"k":"L","s":"SVGP","f":0,"e":8.5,"v":1.17},{"p":3,"k":"L","s":"SVGP","f":0,"e":9.3,"v":2.5},{"p":3,"k":"L","s":"SVGP","f":0,"e":11,"v":1.17},{"p":3,"k":"L","s":"SVGP","f":0,"e":13.2,"v":-1.0},{"p":3,"k":"L","s":"SVGP","f":0,"e":15,"v":2.5},{"p":3,"k":"L","s":"SVGP","f":0,"e":18,"v":1.5},{"p":3,"k":"L","s":"SVGP","f":0,"e":19.8,"v":0.17},{"p":3,"k":"L","s":"SVGP","f":0,"e":22,"v":2.5},{"p":3,"k":"L","s":"SVGP","f":0,"e":26.9,"v":-1.17},{"p":3,"k":"L","s":"SVGP","f":0,"e":32,"v":-1.17},{"p":3,"k":"L","s":"SVGP","f":0,"e":35,"v":2.5},{"p":3,"k":"L","s":"SVGP","f":0,"e":42,"v":2.5},{"p":3,"k":"L","s":"SVGP","f":0,"e":46,"v":-0.5},{"p":3,"k":"L","s":"SVGP","f":0,"e":50,"v":2.5},{"p":3,"k":"L","s":"SVGP","f":0,"e":55,"v":-0.3},{"p":3,"k":"L","s":"SVGP","f":0,"e":60,"v":1.0},
{"p":3,"k":"L","s":"SVGP","f":1,"e":60,"v":1.0},{"p":3,"k":"L","s":"SVGP","f":1,"e":64,"v":2.5},{"p":3,"k":"L","s":"SVGP","f":1,"e":70,"v":0.5},{"p":3,"k":"L","s":"SVGP","f":1,"e":75,"v":2.5},{"p":3,"k":"L","s":"SVGP","f":1,"e":81,"v":1.0},{"p":3,"k":"L","s":"SVGP","f":1,"e":88,"v":2.5},{"p":3,"k":"L","s":"SVGP","f":1,"e":95,"v":0.3},{"p":3,"k":"L","s":"SVGP","f":1,"e":103,"v":2.5},{"p":3,"k":"L","s":"SVGP","f":1,"e":111,"v":0.8},{"p":3,"k":"L","s":"SVGP","f":1,"e":120,"v":2.5},{"p":3,"k":"L","s":"SVGP","f":1,"e":130,"v":1.2},{"p":3,"k":"L","s":"SVGP","f":1,"e":140,"v":2.5},{"p":3,"k":"L","s":"SVGP","f":1,"e":152,"v":0.5},{"p":3,"k":"L","s":"SVGP","f":1,"e":165,"v":2.5},{"p":3,"k":"L","s":"SVGP","f":1,"e":178,"v":1.0},{"p":3,"k":"L","s":"SVGP","f":1,"e":193,"v":2.5},{"p":3,"k":"L","s":"SVGP","f":1,"e":200,"v":0.6},{"p":3,"k":"L","s":"SVGP","f":1,"e":208,"v":2.5},{"p":3,"k":"L","s":"SVGP","f":1,"e":216,"v":0.9},{"p":3,"k":"L","s":"SVGP","f":1,"e":225,"v":2.5},{"p":3,"k":"L","s":"SVGP","f":1,"e":234,"v":0.4},{"p":3,"k":"L","s":"SVGP","f":1,"e":243,"v":2.5},{"p":3,"k":"L","s":"SVGP","f":1,"e":253,"v":1.1},{"p":3,"k":"L","s":"SVGP","f":1,"e":263,"v":2.5},{"p":3,"k":"L","s":"SVGP","f":1,"e":274,"v":0.6},{"p":3,"k":"L","s":"SVGP","f":1,"e":285,"v":2.5},{"p":3,"k":"L","s":"SVGP","f":1,"e":296,"v":0.9},{"p":3,"k":"L","s":"SVGP","f":1,"e":308,"v":2.5},{"p":3,"k":"L","s":"SVGP","f":1,"e":320,"v":0.5},{"p":3,"k":"L","s":"SVGP","f":1,"e":333,"v":2.5},{"p":3,"k":"L","s":"SVGP","f":1,"e":346,"v":1.0},{"p":3,"k":"L","s":"SVGP","f":1,"e":360,"v":2.5},{"p":3,"k":"L","s":"SVGP","f":1,"e":375,"v":0.7},{"p":3,"k":"L","s":"SVGP","f":1,"e":390,"v":2.5},{"p":3,"k":"L","s":"SVGP","f":1,"e":405,"v":0.5},{"p":3,"k":"L","s":"SVGP","f":1,"e":421,"v":2.5},{"p":3,"k":"L","s":"SVGP","f":1,"e":438,"v":0.9},{"p":3,"k":"L","s":"SVGP","f":1,"e":456,"v":2.5},{"p":3,"k":"L","s":"SVGP","f":1,"e":474,"v":0.6},{"p":3,"k":"L","s":"SVGP","f":1,"e":493,"v":2.5},{"p":3,"k":"L","s":"SVGP","f":1,"e":513,"v":1.0},{"p":3,"k":"L","s":"SVGP","f":1,"e":533,"v":2.5},{"p":3,"k":"L","s":"SVGP","f":1,"e":555,"v":0.5},{"p":3,"k":"L","s":"SVGP","f":1,"e":577,"v":2.5},{"p":3,"k":"L","s":"SVGP","f":1,"e":600,"v":0.8},{"p":3,"k":"L","s":"SVGP","f":1,"e":624,"v":2.5},{"p":3,"k":"L","s":"SVGP","f":1,"e":649,"v":0.6},{"p":3,"k":"L","s":"SVGP","f":1,"e":675,"v":2.5},{"p":3,"k":"L","s":"SVGP","f":1,"e":702,"v":1.0},{"p":3,"k":"L","s":"SVGP","f":1,"e":730,"v":2.5},{"p":3,"k":"L","s":"SVGP","f":1,"e":759,"v":0.5},{"p":3,"k":"L","s":"SVGP","f":1,"e":790,"v":2.5},{"p":3,"k":"L","s":"SVGP","f":1,"e":821,"v":0.9},{"p":3,"k":"L","s":"SVGP","f":1,"e":854,"v":2.5},{"p":3,"k":"L","s":"SVGP","f":1,"e":888,"v":0.6},{"p":3,"k":"L","s":"SVGP","f":1,"e":924,"v":2.5},{"p":3,"k":"L","s":"SVGP","f":1,"e":961,"v":1.0},{"p":3,"k":"L","s":"SVGP","f":1,"e":999,"v":2.5},{"p":3,"k":"L","s":"SVGP","f":1,"e":1039,"v":0.5},{"p":3,"k":"L","s":"SVGP","f":1,"e":1081,"v":2.5},{"p":3,"k":"L","s":"SVGP","f":1,"e":1124,"v":0.8},{"p":3,"k":"L","s":"SVGP","f":1,"e":1169,"v":2.5},{"p":3,"k":"L","s":"SVGP","f":1,"e":1216,"v":0.6},{"p":3,"k":"L","s":"SVGP","f":1,"e":1265,"v":2.5},{"p":3,"k":"L","s":"SVGP","f":1,"e":1315,"v":1.0},{"p":3,"k":"L","s":"SVGP","f":1,"e":1368,"v":2.5},{"p":3,"k":"L","s":"SVGP","f":1,"e":1423,"v":0.5},{"p":3,"k":"L","s":"SVGP","f":1,"e":1480,"v":2.5},{"p":3,"k":"L","s":"SVGP","f":1,"e":1539,"v":0.9},{"p":3,"k":"L","s":"SVGP","f":1,"e":1600,"v":2.5},{"p":3,"k":"L","s":"SVGP","f":1,"e":1664,"v":0.6},{"p":3,"k":"L","s":"SVGP","f":1,"e":1731,"v":2.5},{"p":3,"k":"L","s":"SVGP","f":1,"e":1800,"v":1.0},{"p":3,"k":"L","s":"SVGP","f":1,"e":1872,"v":2.5},{"p":3,"k":"L","s":"SVGP","f":1,"e":1947,"v":0.5},{"p":3,"k":"L","s":"SVGP","f":1,"e":2025,"v":2.5},{"p":3,"k":"L","s":"SVGP","f":1,"e":2106,"v":0.8},{"p":3,"k":"L","s":"SVGP","f":1,"e":2190,"v":2.5},{"p":3,"k":"L","s":"SVGP","f":1,"e":2278,"v":0.6},{"p":3,"k":"L","s":"SVGP","f":1,"e":2369,"v":2.5},{"p":3,"k":"L","s":"SVGP","f":1,"e":2464,"v":1.0},{"p":3,"k":"L","s":"SVGP","f":1,"e":2562,"v":2.5},{"p":3,"k":"L","s":"SVGP","f":1,"e":2665,"v":0.5},{"p":3,"k":"L","s":"SVGP","f":1,"e":2771,"v":2.5},{"p":3,"k":"L","s":"SVGP","f":1,"e":2882,"v":0.9},{"p":3,"k":"L","s":"SVGP","f":1,"e":2998,"v":2.5},{"p":3,"k":"L","s":"SVGP","f":1,"e":3117,"v":0.6},{"p":3,"k":"L","s":"SVGP","f":1,"e":3242,"v":2.5},{"p":3,"k":"L","s":"SVGP","f":1,"e":3372,"v":1.0},{"p":3,"k":"L","s":"SVGP","f":1,"e":3507,"v":2.5},{"p":3,"k":"L","s":"SVGP","f":1,"e":3647,"v":0.5},{"p":3,"k":"L","s":"SVGP","f":1,"e":3793,"v":2.5},{"p":3,"k":"L","s":"SVGP","f":1,"e":3945,"v":0.8},{"p":3,"k":"L","s":"SVGP","f":1,"e":4000,"v":2.5},
{"p":3,"k":"L","s":"DKSGP","f":0,"e":0.66,"v":0.62},{"p":3,"k":"L","s":"DKSGP","f":0,"e":1,"v":0.62},{"p":3,"k":"L","s":"DKSGP","f":0,"e":9.3,"v":0.58},{"p":3,"k":"L","s":"DKSGP","f":0,"e":35,"v":0.55},{"p":3,"k":"L","s":"DKSGP","f":0,"e":65,"v":0.45},{"p":3,"k":"L","s":"DKSGP","f":0,"e":111,"v":0.25},{"p":3,"k":"L","s":"DKSGP","f":0,"e":194,"v":-0.17},{"p":3,"k":"L","s":"DKSGP","f":0,"e":340,"v":-1.08},{"p":3,"k":"L","s":"DKSGP","f":0,"e":530,"v":-2.0},{"p":3,"k":"L","s":"DKSGP","f":0,"e":669,"v":-2.7},
{"p":3,"k":"L","s":"DKSGP","f":1,"e":669,"v":-2.7},{"p":3,"k":"L","s":"DKSGP","f":1,"e":702,"v":-2.9},{"p":3,"k":"L","s":"DKSGP","f":1,"e":730,"v":-3.1},{"p":3,"k":"L","s":"DKSGP","f":1,"e":759,"v":-3.0},{"p":3,"k":"L","s":"DKSGP","f":1,"e":790,"v":-3.3},{"p":3,"k":"L","s":"DKSGP","f":1,"e":821,"v":-3.1},{"p":3,"k":"L","s":"DKSGP","f":1,"e":854,"v":-3.5},{"p":3,"k":"L","s":"DKSGP","f":1,"e":888,"v":-3.2},{"p":3,"k":"L","s":"DKSGP","f":1,"e":924,"v":-3.7},{"p":3,"k":"L","s":"DKSGP","f":1,"e":961,"v":-3.3},{"p":3,"k":"L","s":"DKSGP","f":1,"e":999,"v":-3.9},{"p":3,"k":"L","s":"DKSGP","f":1,"e":1039,"v":-3.4},{"p":3,"k":"L","s":"DKSGP","f":1,"e":1081,"v":-4.2},{"p":3,"k":"L","s":"DKSGP","f":1,"e":1124,"v":-2.0},{"p":3,"k":"L","s":"DKSGP","f":1,"e":1169,"v":-4.5},{"p":3,"k":"L","s":"DKSGP","f":1,"e":1216,"v":-3.5},{"p":3,"k":"L","s":"DKSGP","f":1,"e":1265,"v":-4.8},{"p":3,"k":"L","s":"DKSGP","f":1,"e":1315,"v":-3.6},{"p":3,"k":"L","s":"DKSGP","f":1,"e":1368,"v":-5.1},{"p":3,"k":"L","s":"DKSGP","f":1,"e":1410,"v":2.5},{"p":3,"k":"L","s":"DKSGP","f":1,"e":1423,"v":-5.2},{"p":3,"k":"L","s":"DKSGP","f":1,"e":1480,"v":-3.5},{"p":3,"k":"L","s":"DKSGP","f":1,"e":1539,"v":-5.3},{"p":3,"k":"L","s":"DKSGP","f":1,"e":1600,"v":-3.8},{"p":3,"k":"L","s":"DKSGP","f":1,"e":1664,"v":-5.4},{"p":3,"k":"L","s":"DKSGP","f":1,"e":1731,"v":-3.2},{"p":3,"k":"L","s":"DKSGP","f":1,"e":1800,"v":-5.5},{"p":3,"k":"L","s":"DKSGP","f":1,"e":1872,"v":-3.8},{"p":3,"k":"L","s":"DKSGP","f":1,"e":1947,"v":-5.55},{"p":3,"k":"L","s":"DKSGP","f":1,"e":2025,"v":-3.5},{"p":3,"k":"L","s":"DKSGP","f":1,"e":2106,"v":-5.6},{"p":3,"k":"L","s":"DKSGP","f":1,"e":2190,"v":-2.8},{"p":3,"k":"L","s":"DKSGP","f":1,"e":2278,"v":-5.7},{"p":3,"k":"L","s":"DKSGP","f":1,"e":2369,"v":-3.6},{"p":3,"k":"L","s":"DKSGP","f":1,"e":2464,"v":-5.75},{"p":3,"k":"L","s":"DKSGP","f":1,"e":2562,"v":-3.0},{"p":3,"k":"L","s":"DKSGP","f":1,"e":2665,"v":-5.8},{"p":3,"k":"L","s":"DKSGP","f":1,"e":2771,"v":-2.3},{"p":3,"k":"L","s":"DKSGP","f":1,"e":2882,"v":-5.85},{"p":3,"k":"L","s":"DKSGP","f":1,"e":2998,"v":-3.4},{"p":3,"k":"L","s":"DKSGP","f":1,"e":3117,"v":-5.9},{"p":3,"k":"L","s":"DKSGP","f":1,"e":3242,"v":-2.1},{"p":3,"k":"L","s":"DKSGP","f":1,"e":3372,"v":-5.95},{"p":3,"k":"L","s":"DKSGP","f":1,"e":3507,"v":-3.0},{"p":3,"k":"L","s":"DKSGP","f":1,"e":3647,"v":-1.3},{"p":3,"k":"L","s":"DKSGP","f":1,"e":3793,"v":-6.0},{"p":3,"k":"L","s":"DKSGP","f":1,"e":3945,"v":-2.5},{"p":3,"k":"L","s":"DKSGP","f":1,"e":4000,"v":-6.0},
{"p":3,"k":"L","s":"SGP","f":0,"e":0.66,"v":1.22},{"p":3,"k":"L","s":"SGP","f":0,"e":1,"v":1.22},{"p":3,"k":"L","s":"SGP","f":0,"e":3.2,"v":0.97},{"p":3,"k":"L","s":"SGP","f":0,"e":4.0,"v":-0.5},{"p":3,"k":"L","s":"SGP","f":0,"e":5.2,"v":-2.67},{"p":3,"k":"L","s":"SGP","f":0,"e":6.5,"v":-3.08},{"p":3,"k":"L","s":"SGP","f":0,"e":8.9,"v":-3.33},{"p":3,"k":"L","s":"SGP","f":0,"e":10.1,"v":-3.67},{"p":3,"k":"L","s":"SGP","f":0,"e":13.2,"v":-4.25},{"p":3,"k":"L","s":"SGP","f":0,"e":18.9,"v":-4.5},{"p":3,"k":"L","s":"SGP","f":0,"e":29.5,"v":-4.67},{"p":3,"k":"L","s":"SGP","f":0,"e":46,"v":-4.92},{"p":3,"k":"L","s":"SGP","f":0,"e":79,"v":-5.03},{"p":3,"k":"L","s":"SGP","f":0,"e":109,"v":-5.08},
{"p":3,"k":"L","s":"SGP","f":1,"e":109,"v":-5.08},{"p":3,"k":"L","s":"SGP","f":1,"e":208,"v":-5.17},{"p":3,"k":"L","s":"SGP","f":1,"e":385,"v":-5.37},{"p":3,"k":"L","s":"SGP","f":1,"e":790,"v":-5.47},{"p":3,"k":"L","s":"SGP","f":1,"e":4000,"v":-5.47},
{"p":3,"k":"R","s":"DKSVGP","f":0,"e":0.66,"v":17.5},{"p":3,"k":"R","s":"DKSVGP","f":0,"e":60,"v":17.5},{"p":3,"k":"R","s":"DKSVGP","f":0,"e":109,"v":7.8},{"p":3,"k":"R","s":"DKSVGP","f":0,"e":190,"v":22},{"p":3,"k":"R","s":"DKSVGP","f":0,"e":230,"v":8.3},{"p":3,"k":"R","s":"DKSVGP","f":0,"e":300,"v":15},{"p":3,"k":"R","s":"DKSVGP","f":0,"e":340,"v":8.3},{"p":3,"k":"R","s":"DKSVGP","f":0,"e":390,"v":63},{"p":3,"k":"R","s":"DKSVGP","f":0,"e":455,"v":5.4},{"p":3,"k":"R","s":"DKSVGP","f":0,"e":520,"v":9},{"p":3,"k":"R","s":"DKSVGP","f":0,"e":600,"v":6},{"p":3,"k":"R","s":"DKSVGP","f":0,"e":650,"v":8},{"p":3,"k":"R","s":"DKSVGP","f":0,"e":720,"v":17.5},{"p":3,"k":"R","s":"DKSVGP","f":0,"e":850,"v":9},{"p":3,"k":"R","s":"DKSVGP","f":0,"e":999,"v":33},{"p":3,"k":"R","s":"DKSVGP","f":0,"e":1039,"v":12},{"p":3,"k":"R","s":"DKSVGP","f":0,"e":1081,"v":25},{"p":3,"k":"R","s":"DKSVGP","f":0,"e":1124,"v":9},{"p":3,"k":"R","s":"DKSVGP","f":0,"e":1169,"v":20},{"p":3,"k":"R","s":"DKSVGP","f":0,"e":1216,"v":8},{"p":3,"k":"R","s":"DKSVGP","f":0,"e":1265,"v":30},{"p":3,"k":"R","s":"DKSVGP","f":0,"e":1315,"v":12},{"p":3,"k":"R","s":"DKSVGP","f":0,"e":1368,"v":9},{"p":3,"k":"R","s":"DKSVGP","f":0,"e":1423,"v":309},{"p":3,"k":"R","s":"DKSVGP","f":0,"e":1480,"v":10},{"p":3,"k":"R","s":"DKSVGP","f":0,"e":1539,"v":25},{"p":3,"k":"R","s":"DKSVGP","f":0,"e":1600,"v":9},{"p":3,"k":"R","s":"DKSVGP","f":0,"e":1664,"v":40},{"p":3,"k":"R","s":"DKSVGP","f":0,"e":1731,"v":10},{"p":3,"k":"R","s":"DKSVGP","f":0,"e":1800,"v":22},{"p":3,"k":"R","s":"DKSVGP","f":0,"e":1872,"v":9},{"p":3,"k":"R","s":"DKSVGP","f":0,"e":1947,"v":33},{"p":3,"k":"R","s":"DKSVGP","f":0,"e":2025,"v":12},{"p":3,"k":"R","s":"DKSVGP","f":0,"e":2106,"v":45},{"p":3,"k":"R","s":"DKSVGP","f":0,"e":2190,"v":10},{"p":3,"k":"R","s":"DKSVGP","f":0,"e":2278,"v":25},{"p":3,"k":"R","s":"DKSVGP","f":0,"e":2369,"v":9},{"p":3,"k":"R","s":"DKSVGP","f":0,"e":2464,"v":40},{"p":3,"k":"R","s":"DKSVGP","f":0,"e":2562,"v":11},{"p":3,"k":"R","s":"DKSVGP","f":0,"e":2665,"v":57},{"p":3,"k":"R","s":"DKSVGP","f":0,"e":2771,"v":12},{"p":3,"k":"R","s":"DKSVGP","f":0,"e":2882,"v":35},{"p":3,"k":"R","s":"DKSVGP","f":0,"e":2998,"v":10},{"p":3,"k":"R","s":"DKSVGP","f":0,"e":3117,"v":45},{"p":3,"k":"R","s":"DKSVGP","f":0,"e":3242,"v":14},{"p":3,"k":"R","s":"DKSVGP","f":0,"e":3372,"v":50},{"p":3,"k":"R","s":"DKSVGP","f":0,"e":3507,"v":12},{"p":3,"k":"R","s":"DKSVGP","f":0,"e":3647,"v":40},{"p":3,"k":"R","s":"DKSVGP","f":0,"e":3793,"v":15},{"p":3,"k":"R","s":"DKSVGP","f":0,"e":3945,"v":45},{"p":3,"k":"R","s":"DKSVGP","f":0,"e":4000,"v":6},
{"p":3,"k":"R","s":"SVGP","f":0,"e":0.66,"v":141},{"p":3,"k":"R","s":"SVGP","f":0,"e":60,"v":141},
{"p":3,"k":"R","s":"SVGP","f":1,"e":60,"v":141},{"p":3,"k":"R","s":"SVGP","f":1,"e":110,"v":24},{"p":3,"k":"R","s":"SVGP","f":1,"e":190,"v":38},{"p":3,"k":"R","s":"SVGP","f":1,"e":300,"v":223},{"p":3,"k":"R","s":"SVGP","f":1,"e":350,"v":190},{"p":3,"k":"R","s":"SVGP","f":1,"e":450,"v":230},{"p":3,"k":"R","s":"SVGP","f":1,"e":520,"v":200},{"p":3,"k":"R","s":"SVGP","f":1,"e":600,"v":180},{"p":3,"k":"R","s":"SVGP","f":1,"e":700,"v":230},{"p":3,"k":"R","s":"SVGP","f":1,"e":800,"v":260},{"p":3,"k":"R","s":"SVGP","f":1,"e":900,"v":200},{"p":3,"k":"R","s":"SVGP","f":1,"e":1000,"v":170},{"p":3,"k":"R","s":"SVGP","f":1,"e":1100,"v":260},{"p":3,"k":"R","s":"SVGP","f":1,"e":1200,"v":390},{"p":3,"k":"R","s":"SVGP","f":1,"e":1300,"v":200},{"p":3,"k":"R","s":"SVGP","f":1,"e":1450,"v":160},{"p":3,"k":"R","s":"SVGP","f":1,"e":1550,"v":280},{"p":3,"k":"R","s":"SVGP","f":1,"e":1700,"v":250},{"p":3,"k":"R","s":"SVGP","f":1,"e":1800,"v":180},{"p":3,"k":"R","s":"SVGP","f":1,"e":1900,"v":300},{"p":3,"k":"R","s":"SVGP","f":1,"e":2000,"v":200},{"p":3,"k":"R","s":"SVGP","f":1,"e":2100,"v":280},{"p":3,"k":"R","s":"SVGP","f":1,"e":2200,"v":160},{"p":3,"k":"R","s":"SVGP","f":1,"e":2300,"v":250},{"p":3,"k":"R","s":"SVGP","f":1,"e":2400,"v":180},{"p":3,"k":"R","s":"SVGP","f":1,"e":2500,"v":300},{"p":3,"k":"R","s":"SVGP","f":1,"e":2600,"v":200},{"p":3,"k":"R","s":"SVGP","f":1,"e":2700,"v":190},{"p":3,"k":"R","s":"SVGP","f":1,"e":2800,"v":350},{"p":3,"k":"R","s":"SVGP","f":1,"e":2950,"v":1370},{"p":3,"k":"R","s":"SVGP","f":1,"e":3050,"v":300},{"p":3,"k":"R","s":"SVGP","f":1,"e":3150,"v":160},{"p":3,"k":"R","s":"SVGP","f":1,"e":3300,"v":400},{"p":3,"k":"R","s":"SVGP","f":1,"e":3400,"v":200},{"p":3,"k":"R","s":"SVGP","f":1,"e":3500,"v":500},{"p":3,"k":"R","s":"SVGP","f":1,"e":3600,"v":180},{"p":3,"k":"R","s":"SVGP","f":1,"e":3700,"v":450},{"p":3,"k":"R","s":"SVGP","f":1,"e":3800,"v":200},{"p":3,"k":"R","s":"SVGP","f":1,"e":3900,"v":500},{"p":3,"k":"R","s":"SVGP","f":1,"e":4000,"v":900},
{"p":3,"k":"R","s":"DKSGP","f":0,"e":0.66,"v":81},{"p":3,"k":"R","s":"DKSGP","f":0,"e":1,"v":81},{"p":3,"k":"R","s":"DKSGP","f":0,"e":3.8,"v":63},{"p":3,"k":"R","s":"DKSGP","f":0,"e":9.3,"v":39},{"p":3,"k":"R","s":"DKSGP","f":0,"e":22.5,"v":24},{"p":3,"k":"R","s":"DKSGP","f":0,"e":55,"v":14},{"p":3,"k":"R","s":"DKSGP","f":0,"e":109,"v":9.8},{"p":3,"k":"R","s":"DKSGP","f":0,"e":208,"v":6.3},{"p":3,"k":"R","s":"DKSGP","f":0,"e":216,"v":7.5},{"p":3,"k":"R","s":"DKSGP","f":0,"e":225,"v":5.5},{"p":3,"k":"R","s":"DKSGP","f":0,"e":234,"v":8},{"p":3,"k":"R","s":"DKSGP","f":0,"e":243,"v":5.3},{"p":3,"k":"R","s":"DKSGP","f":0,"e":253,"v":7.5},{"p":3,"k":"R","s":"DKSGP","f":0,"e":263,"v":5.2},{"p":3,"k":"R","s":"DKSGP","f":0,"e":274,"v":8.5},{"p":3,"k":"R","s":"DKSGP","f":0,"e":285,"v":5},{"p":3,"k":"R","s":"DKSGP","f":0,"e":296,"v":7.5},{"p":3,"k":"R","s":"DKSGP","f":0,"e":308,"v":4.8},{"p":3,"k":"R","s":"DKSGP","f":0,"e":320,"v":8},{"p":3,"k":"R","s":"DKSGP","f":0,"e":333,"v":4.6},{"p":3,"k":"R","s":"DKSGP","f":0,"e":346,"v":7.5},{"p":3,"k":"R","s":"DKSGP","f":0,"e":360,"v":4.4},{"p":3,"k":"R","s":"DKSGP","f":0,"e":375,"v":8.5},{"p":3,"k":"R","s":"DKSGP","f":0,"e":390,"v":4.2},{"p":3,"k":"R","s":"DKSGP","f":0,"e":405,"v":7},{"p":3,"k":"R","s":"DKSGP","f":0,"e":421,"v":4},{"p":3,"k":"R","s":"DKSGP","f":0,"e":438,"v":9.5},{"p":3,"k":"R","s":"DKSGP","f":0,"e":456,"v":3.8},{"p":3,"k":"R","s":"DKSGP","f":0,"e":474,"v":7},{"p":3,"k":"R","s":"DKSGP","f":0,"e":493,"v":3.6},{"p":3,"k":"R","s":"DKSGP","f":0,"e":513,"v":7.5},{"p":3,"k":"R","s":"DKSGP","f":0,"e":533,"v":3.4},{"p":3,"k":"R","s":"DKSGP","f":0,"e":555,"v":6.5},{"p":3,"k":"R","s":"DKSGP","f":0,"e":577,"v":3.2},{"p":3,"k":"R","s":"DKSGP","f":0,"e":600,"v":7},{"p":3,"k":"R","s":"DKSGP","f":0,"e":624,"v":3},{"p":3,"k":"R","s":"DKSGP","f":0,"e":649,"v":6},{"p":3,"k":"R","s":"DKSGP","f":0,"e":669,"v":2.6},
{"p":3,"k":"R","s":"DKSGP","f":1,"e":669,"v":2.6},{"p":3,"k":"R","s":"DKSGP","f":1,"e":702,"v":5},{"p":3,"k":"R","s":"DKSGP","f":1,"e":730,"v":2.3},{"p":3,"k":"R","s":"DKSGP","f":1,"e":759,"v":4.5},{"p":3,"k":"R","s":"DKSGP","f":1,"e":790,"v":2},{"p":3,"k":"R","s":"DKSGP","f":1,"e":821,"v":4.9},{"p":3,"k":"R","s":"DKSGP","f":1,"e":854,"v":1.6},{"p":3,"k":"R","s":"DKSGP","f":1,"e":888,"v":4.5},{"p":3,"k":"R","s":"DKSGP","f":1,"e":924,"v":1.2},{"p":3,"k":"R","s":"DKSGP","f":1,"e":961,"v":4},{"p":3,"k":"R","s":"DKSGP","f":1,"e":999,"v":0.9},{"p":3,"k":"R","s":"DKSGP","f":1,"e":1039,"v":4.5},{"p":3,"k":"R","s":"DKSGP","f":1,"e":1081,"v":0.8},{"p":3,"k":"R","s":"DKSGP","f":1,"e":1124,"v":3},{"p":3,"k":"R","s":"DKSGP","f":1,"e":1169,"v":0.7},{"p":3,"k":"R","s":"DKSGP","f":1,"e":1216,"v":3.5},{"p":3,"k":"R","s":"DKSGP","f":1,"e":1265,"v":0.6},{"p":3,"k":"R","s":"DKSGP","f":1,"e":1315,"v":4.5},{"p":3,"k":"R","s":"DKSGP","f":1,"e":1368,"v":0.5},{"p":3,"k":"R","s":"DKSGP","f":1,"e":1423,"v":3},{"p":3,"k":"R","s":"DKSGP","f":1,"e":1480,"v":0.42},{"p":3,"k":"R","s":"DKSGP","f":1,"e":1539,"v":1.3},{"p":3,"k":"R","s":"DKSGP","f":1,"e":1600,"v":0.45},{"p":3,"k":"R","s":"DKSGP","f":1,"e":1664,"v":1.2},{"p":3,"k":"R","s":"DKSGP","f":1,"e":1731,"v":0.42},{"p":3,"k":"R","s":"DKSGP","f":1,"e":1800,"v":1.1},{"p":3,"k":"R","s":"DKSGP","f":1,"e":1872,"v":0.4},{"p":3,"k":"R","s":"DKSGP","f":1,"e":1947,"v":1.1},{"p":3,"k":"R","s":"DKSGP","f":1,"e":2025,"v":0.38},{"p":3,"k":"R","s":"DKSGP","f":1,"e":2106,"v":1.0},{"p":3,"k":"R","s":"DKSGP","f":1,"e":2190,"v":0.37},{"p":3,"k":"R","s":"DKSGP","f":1,"e":2278,"v":1.0},{"p":3,"k":"R","s":"DKSGP","f":1,"e":2369,"v":0.36},{"p":3,"k":"R","s":"DKSGP","f":1,"e":2464,"v":0.95},{"p":3,"k":"R","s":"DKSGP","f":1,"e":2562,"v":0.35},{"p":3,"k":"R","s":"DKSGP","f":1,"e":2665,"v":10},{"p":3,"k":"R","s":"DKSGP","f":1,"e":2771,"v":0.35},{"p":3,"k":"R","s":"DKSGP","f":1,"e":2882,"v":0.9},{"p":3,"k":"R","s":"DKSGP","f":1,"e":2998,"v":0.34},{"p":3,"k":"R","s":"DKSGP","f":1,"e":3117,"v":1.0},{"p":3,"k":"R","s":"DKSGP","f":1,"e":3242,"v":0.34},{"p":3,"k":"R","s":"DKSGP","f":1,"e":3372,"v":0.9},{"p":3,"k":"R","s":"DKSGP","f":1,"e":3507,"v":0.33},{"p":3,"k":"R","s":"DKSGP","f":1,"e":3647,"v":1.1},{"p":3,"k":"R","s":"DKSGP","f":1,"e":3793,"v":0.33},{"p":3,"k":"R","s":"DKSGP","f":1,"e":3945,"v":0.9},{"p":3,"k":"R","s":"DKSGP","f":1,"e":4000,"v":0.32},
{"p":3,"k":"R","s":"SGP","f":0,"e":0.66,"v":236},{"p":3,"k":"R","s":"SGP","f":0,"e":1,"v":236},{"p":3,"k":"R","s":"SGP","f":0,"e":2.05,"v":203},{"p":3,"k":"R","s":"SGP","f":0,"e":2.46,"v":120},{"p":3,"k":"R","s":"SGP","f":0,"e":3.06,"v":41},{"p":3,"k":"R","s":"SGP","f":0,"e":4.0,"v":4.9},{"p":3,"k":"R","s":"SGP","f":0,"e":5.4,"v":4.1},{"p":3,"k":"R","s":"SGP","f":0,"e":8.1,"v":3.5},{"p":3,"k":"R","s":"SGP","f":0,"e":9.3,"v":1.66},{"p":3,"k":"R","s":"SGP","f":0,"e":12.1,"v":1.15},{"p":3,"k":"R","s":"SGP","f":0,"e":22.5,"v":0.9},{"p":3,"k":"R","s":"SGP","f":0,"e":42,"v":0.71},{"p":3,"k":"R","s":"SGP","f":0,"e":60,"v":0.66},{"p":3,"k":"R","s":"SGP","f":0,"e":109,"v":0.6},
{"p":3,"k":"R","s":"SGP","f":1,"e":109,"v":0.6},{"p":3,"k":"R","s":"SGP","f":1,"e":190,"v":0.57},{"p":3,"k":"R","s":"SGP","f":1,"e":325,"v":0.42},{"p":3,"k":"R","s":"SGP","f":1,"e":660,"v":0.37},{"p":3,"k":"R","s":"SGP","f":1,"e":4000,"v":0.36}
],
"R":[
{"p":1,"s":"DKSVGP","e":3990},{"p":1,"s":"SVGP","e":650},{"p":1,"s":"DKSGP","e":3900},{"p":1,"s":"SGP","e":25},
{"p":2,"s":"DKSVGP","e":3900},{"p":2,"s":"SVGP","e":181},{"p":2,"s":"DKSGP","e":680},{"p":2,"s":"SGP","e":3210},
{"p":3,"s":"DKSVGP","e":3940},{"p":3,"s":"SVGP","e":60},{"p":3,"s":"DKSGP","e":669},{"p":3,"s":"SGP","e":109}
]
},
"columns":3,
"spacing":{"row":65,"column":72},
"bounds":"flush",
"concat":[
{"width":341,"height":160,"title":"m=2 Inducing Points",
 "layer":[
  {"data":{"name":"L"},"transform":[{"filter":"datum.p==1 && datum.k=='L'"}],
   "mark":{"type":"line","clip":true,"strokeWidth":2.6},
   "encoding":{
    "x":{"field":"e","type":"quantitative","scale":{"type":"log","domain":[0.66,5700],"nice":false},"axis":{"title":null,"values":[0.7,0.8,0.9,1,2,3,4,5,6,7,8,9,10,20,30,40,50,60,70,80,90,100,200,300,400,500,600,700,800,900,1000,2000,3000,4000,5000],"labelExpr":"datum.value==1?'10⁰':datum.value==10?'10¹':datum.value==100?'10²':datum.value==1000?'10³':''","tickSize":{"condition":{"test":"datum.value==1||datum.value==10||datum.value==100||datum.value==1000","value":9},"value":5.5},"labelPadding":5,"labelOverlap":false,"labelFlush":false}},
    "y":{"field":"v","type":"quantitative","scale":{"domain":[-6,2],"nice":false,"zero":false},"axis":{"values":[-6,-4,-2,0,2],"labelExpr":"replace(datum.label,'-','−')","tickSize":9,"labelPadding":9,"title":"Loss","titleX":-64,"titleY":80,"titleBaseline":"middle","titleAlign":"center"}},
    "color":{"field":"s","type":"nominal","scale":{"domain":["DKSVGP","SVGP","DKSGP","SGP"],"range":["#d62728","#ff7f0e","#2ca02c","#1f77b4"]},"legend":{"orient":"none","legendX":5,"legendY":75,"title":null,"symbolType":"M-1,0L2.75,0","symbolStrokeWidth":4,"symbolSize":256,"labelFontSize":13,"labelFont":"DejaVu Serif","labelColor":"black","strokeColor":"#cccccc","fillColor":"rgba(255,255,255,0.8)","padding":5,"cornerRadius":3,"rowPadding":4,"labelOffset":23}},
    "detail":{"field":"f","type":"nominal"},
    "opacity":{"condition":{"test":"datum.f==1","value":0.5},"value":1}
   }},
  {"data":{"name":"R"},"transform":[{"filter":"datum.p==1"}],"mark":{"type":"rule","strokeWidth":1.6},
   "encoding":{"x":{"field":"e","type":"quantitative"},"color":{"field":"s","type":"nominal"}}}
 ]},
{"width":341,"height":160,"title":"m=258 Inducing Points",
 "layer":[
  {"data":{"name":"L"},"transform":[{"filter":"datum.p==2 && datum.k=='L'"}],
   "mark":{"type":"line","clip":true,"strokeWidth":2.6},
   "encoding":{
    "x":{"field":"e","type":"quantitative","scale":{"type":"log","domain":[0.66,5700],"nice":false},"axis":{"title":null,"values":[0.7,0.8,0.9,1,2,3,4,5,6,7,8,9,10,20,30,40,50,60,70,80,90,100,200,300,400,500,600,700,800,900,1000,2000,3000,4000,5000],"labelExpr":"datum.value==1?'10⁰':datum.value==10?'10¹':datum.value==100?'10²':datum.value==1000?'10³':''","tickSize":{"condition":{"test":"datum.value==1||datum.value==10||datum.value==100||datum.value==1000","value":9},"value":5.5},"labelPadding":5,"labelOverlap":false,"labelFlush":false}},
    "y":{"field":"v","type":"quantitative","scale":{"domain":[-6,2],"nice":false,"zero":false},"axis":{"values":[-6,-4,-2,0,2],"labelExpr":"replace(datum.label,'-','−')","tickSize":9,"labelPadding":9,"title":null}},
    "color":{"field":"s","type":"nominal","scale":{"domain":["DKSVGP","SVGP","DKSGP","SGP"],"range":["#d62728","#ff7f0e","#2ca02c","#1f77b4"]}},
    "detail":{"field":"f","type":"nominal"},
    "opacity":{"condition":{"test":"datum.f==1","value":0.5},"value":1}
   }},
  {"data":{"name":"R"},"transform":[{"filter":"datum.p==2"}],"mark":{"type":"rule","strokeWidth":1.6},
   "encoding":{"x":{"field":"e","type":"quantitative"},"color":{"field":"s","type":"nominal"}}}
 ]},
{"width":341,"height":160,"title":"m=506 Inducing Points",
 "layer":[
  {"data":{"name":"L"},"transform":[{"filter":"datum.p==3 && datum.k=='L'"}],
   "mark":{"type":"line","clip":true,"strokeWidth":2.6},
   "encoding":{
    "x":{"field":"e","type":"quantitative","scale":{"type":"log","domain":[0.66,5700],"nice":false},"axis":{"title":null,"values":[0.7,0.8,0.9,1,2,3,4,5,6,7,8,9,10,20,30,40,50,60,70,80,90,100,200,300,400,500,600,700,800,900,1000,2000,3000,4000,5000],"labelExpr":"datum.value==1?'10⁰':datum.value==10?'10¹':datum.value==100?'10²':datum.value==1000?'10³':''","tickSize":{"condition":{"test":"datum.value==1||datum.value==10||datum.value==100||datum.value==1000","value":9},"value":5.5},"labelPadding":5,"labelOverlap":false,"labelFlush":false}},
    "y":{"field":"v","type":"quantitative","scale":{"domain":[-6,2],"nice":false,"zero":false},"axis":{"values":[-6,-4,-2,0,2],"labelExpr":"replace(datum.label,'-','−')","tickSize":9,"labelPadding":9,"title":null}},
    "color":{"field":"s","type":"nominal","scale":{"domain":["DKSVGP","SVGP","DKSGP","SGP"],"range":["#d62728","#ff7f0e","#2ca02c","#1f77b4"]}},
    "detail":{"field":"f","type":"nominal"},
    "opacity":{"condition":{"test":"datum.f==1","value":0.5},"value":1}
   }},
  {"data":{"name":"R"},"transform":[{"filter":"datum.p==3"}],"mark":{"type":"rule","strokeWidth":1.6},
   "encoding":{"x":{"field":"e","type":"quantitative"},"color":{"field":"s","type":"nominal"}}}
 ]},
{"width":341,"height":158,
 "layer":[
  {"data":{"name":"L"},"transform":[{"filter":"datum.p==1 && datum.k=='R'"}],
   "mark":{"type":"line","clip":true,"strokeWidth":2.6},
   "encoding":{
    "x":{"field":"e","type":"quantitative","scale":{"type":"log","domain":[0.66,5700],"nice":false},"axis":{"title":"Epoch","titleY":54,"titleBaseline":"middle","values":[0.7,0.8,0.9,1,2,3,4,5,6,7,8,9,10,20,30,40,50,60,70,80,90,100,200,300,400,500,600,700,800,900,1000,2000,3000,4000,5000],"labelExpr":"datum.value==1?'10⁰':datum.value==10?'10¹':datum.value==100?'10²':datum.value==1000?'10³':''","tickSize":{"condition":{"test":"datum.value==1||datum.value==10||datum.value==100||datum.value==1000","value":9},"value":5.5},"labelPadding":5,"labelOverlap":false,"labelFlush":false}},
    "y":{"field":"v","type":"quantitative","scale":{"type":"log","domain":[0.182,4470],"nice":false},"axis":{"values":[0.2,0.3,0.4,0.5,0.6,0.7,0.8,0.9,1,2,3,4,5,6,7,8,9,10,20,30,40,50,60,70,80,90,100,200,300,400,500,600,700,800,900,1000,2000,3000,4000],"labelExpr":"datum.value==1?'10⁰':datum.value==10?'10¹':datum.value==100?'10²':datum.value==1000?'10³':''","tickSize":{"condition":{"test":"datum.value==1||datum.value==10||datum.value==100||datum.value==1000","value":9},"value":5.5},"labelPadding":5,"labelOverlap":false,"labelFlush":false,"title":"Validation RMSE (MeV)","titleX":-64,"titleY":79,"titleBaseline":"middle","titleAlign":"center"}},
    "color":{"field":"s","type":"nominal","scale":{"domain":["DKSVGP","SVGP","DKSGP","SGP"],"range":["#d62728","#ff7f0e","#2ca02c","#1f77b4"]}},
    "detail":{"field":"f","type":"nominal"},
    "opacity":{"condition":{"test":"datum.f==1","value":0.5},"value":1}
   }},
  {"data":{"name":"R"},"transform":[{"filter":"datum.p==1"}],"mark":{"type":"rule","strokeWidth":1.6},
   "encoding":{"x":{"field":"e","type":"quantitative"},"color":{"field":"s","type":"nominal"}}}
 ]},
{"width":341,"height":158,
 "layer":[
  {"data":{"name":"L"},"transform":[{"filter":"datum.p==2 && datum.k=='R'"}],
   "mark":{"type":"line","clip":true,"strokeWidth":2.6},
   "encoding":{
    "x":{"field":"e","type":"quantitative","scale":{"type":"log","domain":[0.66,5700],"nice":false},"axis":{"title":"Epoch","titleY":54,"titleBaseline":"middle","values":[0.7,0.8,0.9,1,2,3,4,5,6,7,8,9,10,20,30,40,50,60,70,80,90,100,200,300,400,500,600,700,800,900,1000,2000,3000,4000,5000],"labelExpr":"datum.value==1?'10⁰':datum.value==10?'10¹':datum.value==100?'10²':datum.value==1000?'10³':''","tickSize":{"condition":{"test":"datum.value==1||datum.value==10||datum.value==100||datum.value==1000","value":9},"value":5.5},"labelPadding":5,"labelOverlap":false,"labelFlush":false}},
    "y":{"field":"v","type":"quantitative","scale":{"type":"log","domain":[0.182,4470],"nice":false},"axis":{"values":[0.2,0.3,0.4,0.5,0.6,0.7,0.8,0.9,1,2,3,4,5,6,7,8,9,10,20,30,40,50,60,70,80,90,100,200,300,400,500,600,700,800,900,1000,2000,3000,4000],"labelExpr":"datum.value==1?'10⁰':datum.value==10?'10¹':datum.value==100?'10²':datum.value==1000?'10³':''","tickSize":{"condition":{"test":"datum.value==1||datum.value==10||datum.value==100||datum.value==1000","value":9},"value":5.5},"labelPadding":5,"labelOverlap":false,"labelFlush":false,"title":null}},
    "color":{"field":"s","type":"nominal","scale":{"domain":["DKSVGP","SVGP","DKSGP","SGP"],"range":["#d62728","#ff7f0e","#2ca02c","#1f77b4"]}},
    "detail":{"field":"f","type":"nominal"},
    "opacity":{"condition":{"test":"datum.f==1","value":0.5},"value":1}
   }},
  {"data":{"name":"R"},"transform":[{"filter":"datum.p==2"}],"mark":{"type":"rule","strokeWidth":1.6},
   "encoding":{"x":{"field":"e","type":"quantitative"},"color":{"field":"s","type":"nominal"}}}
 ]},
{"width":341,"height":158,
 "layer":[
  {"data":{"name":"L"},"transform":[{"filter":"datum.p==3 && datum.k=='R'"}],
   "mark":{"type":"line","clip":true,"strokeWidth":2.6},
   "encoding":{
    "x":{"field":"e","type":"quantitative","scale":{"type":"log","domain":[0.66,5700],"nice":false},"axis":{"title":"Epoch","titleY":54,"titleBaseline":"middle","values":[0.7,0.8,0.9,1,2,3,4,5,6,7,8,9,10,20,30,40,50,60,70,80,90,100,200,300,400,500,600,700,800,900,1000,2000,3000,4000,5000],"labelExpr":"datum.value==1?'10⁰':datum.value==10?'10¹':datum.value==100?'10²':datum.value==1000?'10³':''","tickSize":{"condition":{"test":"datum.value==1||datum.value==10||datum.value==100||datum.value==1000","value":9},"value":5.5},"labelPadding":5,"labelOverlap":false,"labelFlush":false}},
    "y":{"field":"v","type":"quantitative","scale":{"type":"log","domain":[0.182,4470],"nice":false},"axis":{"values":[0.2,0.3,0.4,0.5,0.6,0.7,0.8,0.9,1,2,3,4,5,6,7,8,9,10,20,30,40,50,60,70,80,90,100,200,300,400,500,600,700,800,900,1000,2000,3000,4000],"labelExpr":"datum.value==1?'10⁰':datum.value==10?'10¹':datum.value==100?'10²':datum.value==1000?'10³':''","tickSize":{"condition":{"test":"datum.value==1||datum.value==10||datum.value==100||datum.value==1000","value":9},"value":5.5},"labelPadding":5,"labelOverlap":false,"labelFlush":false,"title":null}},
    "color":{"field":"s","type":"nominal","scale":{"domain":["DKSVGP","SVGP","DKSGP","SGP"],"range":["#d62728","#ff7f0e","#2ca02c","#1f77b4"]}},
    "detail":{"field":"f","type":"nominal"},
    "opacity":{"condition":{"test":"datum.f==1","value":0.5},"value":1}
   }},
  {"data":{"name":"R"},"transform":[{"filter":"datum.p==3"}],"mark":{"type":"rule","strokeWidth":1.6},
   "encoding":{"x":{"field":"e","type":"quantitative"},"color":{"field":"s","type":"nominal"}}}
 ]}
]
}
